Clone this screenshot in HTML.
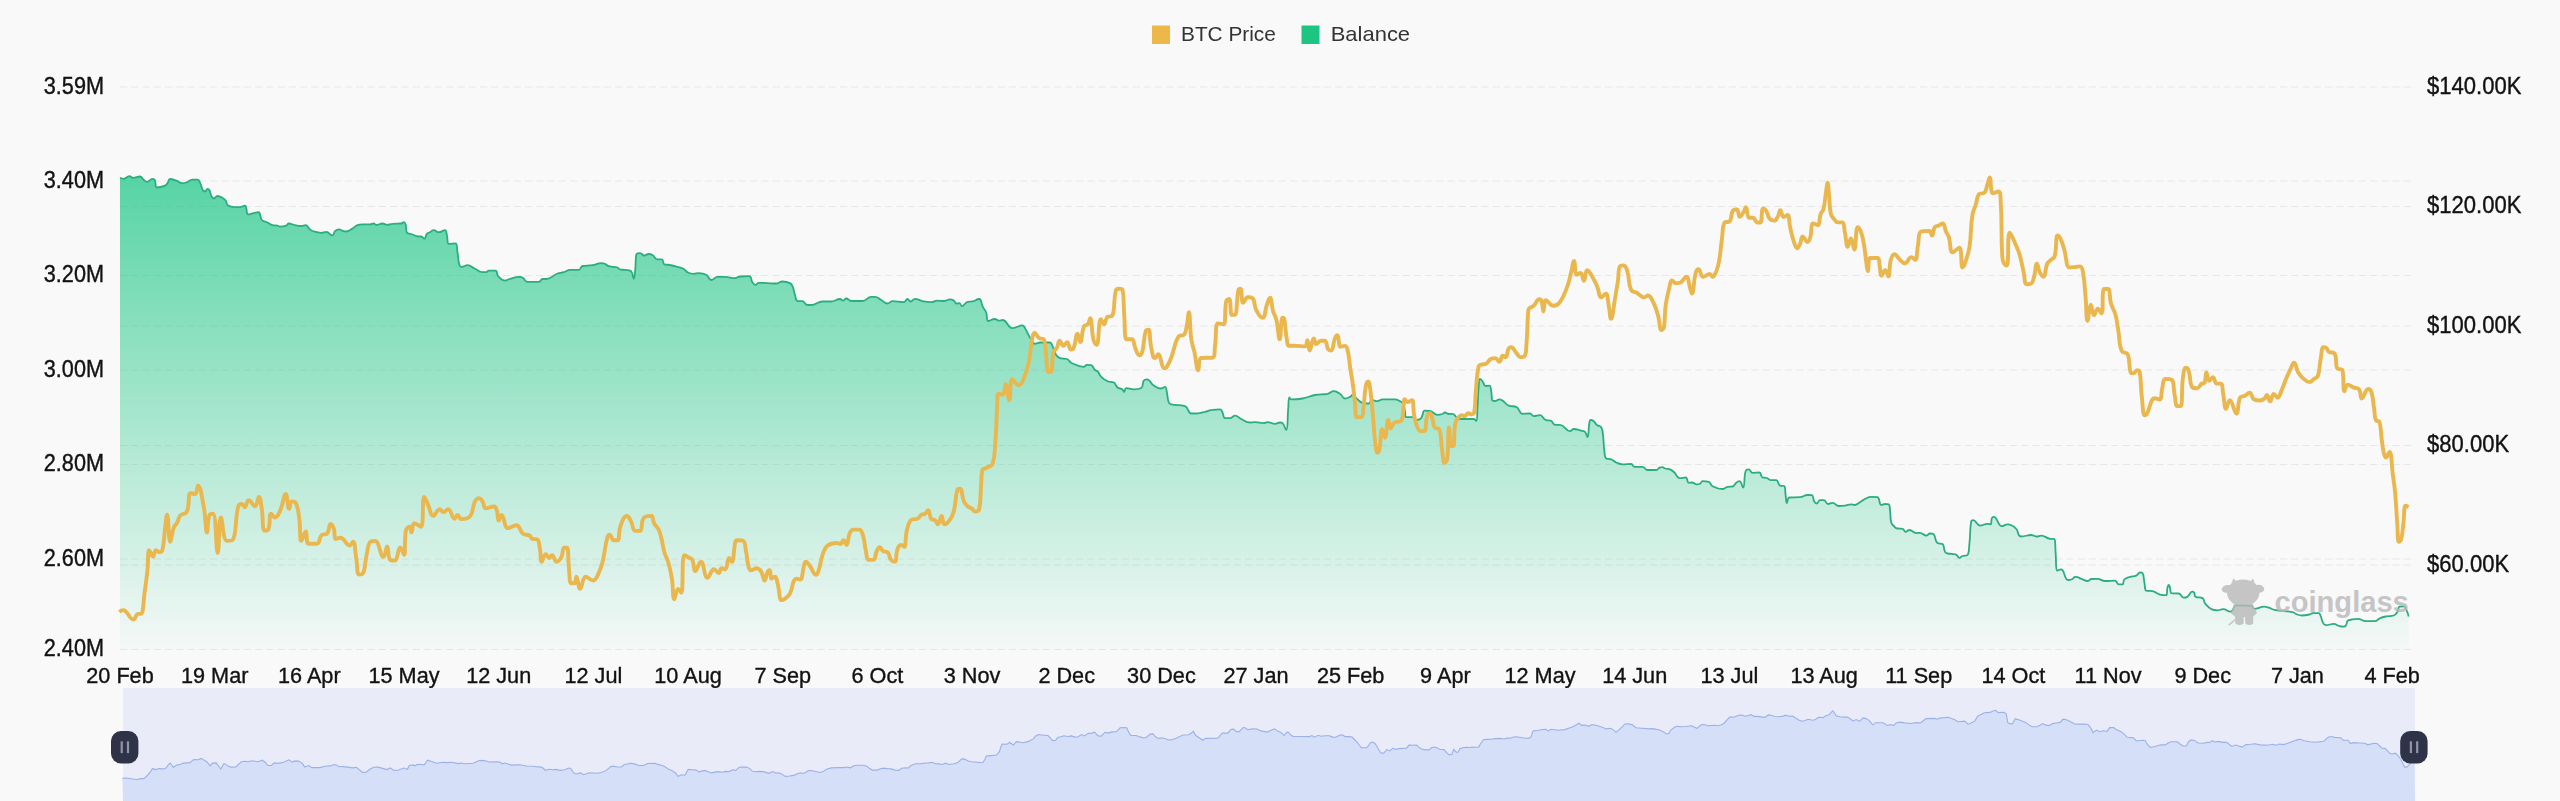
<!DOCTYPE html>
<html><head><meta charset="utf-8"><title>BTC Balance</title>
<style>
html,body{margin:0;padding:0;background:#f9f9f9;}
body{width:2560px;height:801px;overflow:hidden;font-family:"Liberation Sans",sans-serif;}
svg{display:block}
.ax{font-family:"Liberation Sans",sans-serif;font-size:21px;fill:#111;stroke:#111;stroke-width:0.35px;}
.lg{font-family:"Liberation Sans",sans-serif;font-size:21px;fill:#333;}
.wm{font-family:"Liberation Sans",sans-serif;font-size:30px;font-weight:bold;fill:#b9b9b9;}
</style></head><body>
<svg width="2560" height="801" viewBox="0 0 2560 801">
<defs>
<linearGradient id="gg" x1="0" y1="176" x2="0" y2="650" gradientUnits="userSpaceOnUse">
<stop offset="0" stop-color="#18c584" stop-opacity="0.72"/><stop offset="1" stop-color="#18c584" stop-opacity="0.02"/>
</linearGradient>
</defs>
<rect width="2560" height="801" fill="#f9f9f9"/>
<g stroke="#e7e7e7" stroke-width="1.2" stroke-dasharray="7.25 4"><line x1="120" x2="2412" y1="87" y2="87"/><line x1="120" x2="2412" y1="181" y2="181"/><line x1="120" x2="2412" y1="206.5" y2="206.5"/><line x1="120" x2="2412" y1="275.5" y2="275.5"/><line x1="120" x2="2412" y1="326" y2="326"/><line x1="120" x2="2412" y1="370" y2="370"/><line x1="120" x2="2412" y1="445.5" y2="445.5"/><line x1="120" x2="2412" y1="464.5" y2="464.5"/><line x1="120" x2="2412" y1="559" y2="559"/><line x1="120" x2="2412" y1="565" y2="565"/><line x1="120" x2="2412" y1="649.5" y2="649.5"/></g>
<path d="M120.0,177.8 C120.0,177.8 122.1,178.8 123.8,178.8 C126.3,178.8 126.8,176.2 129.4,176.2 C131.0,176.2 131.4,177.8 133.1,177.8 C136.2,177.8 137.2,176.5 140.0,176.5 C142.0,176.5 141.9,178.6 143.8,180.0 C145.0,181.0 145.5,181.9 146.9,181.9 C149.4,181.9 150.0,178.8 152.5,178.8 C153.5,178.8 154.3,179.0 154.8,180.0 C156.2,183.0 154.8,187.5 156.9,187.5 C159.1,187.5 161.6,187.0 165.0,185.6 C166.4,185.0 166.5,184.4 167.5,183.1 C168.8,181.4 168.3,179.0 170.0,179.0 C172.8,179.0 174.2,180.1 177.5,181.2 C179.5,182.0 179.8,183.1 181.9,183.1 C183.8,183.1 184.4,183.1 186.2,182.5 C189.2,181.5 189.6,179.6 192.5,179.6 C194.6,179.6 195.4,179.6 197.5,179.6 C198.5,179.6 198.9,180.3 199.4,181.2 C201.4,185.2 201.0,186.8 203.1,190.6 C203.6,191.4 204.3,191.5 205.0,191.5 C206.3,191.5 206.3,188.8 207.5,188.8 C208.2,188.8 208.9,189.1 209.4,190.0 C210.6,192.2 210.1,193.3 211.2,195.6 C212.0,197.1 212.5,198.5 213.8,198.5 C215.3,198.5 215.7,196.0 217.5,196.0 C220.2,196.0 221.1,197.3 223.8,198.8 C224.8,199.3 225.0,199.6 225.6,200.6 C227.0,202.7 226.3,204.3 228.1,205.6 C230.5,207.2 231.9,207.2 235.0,207.2 C237.2,207.2 237.8,207.2 240.0,207.2 C242.3,207.2 243.2,205.6 245.0,205.6 C246.0,205.6 245.8,206.9 246.2,208.1 C247.2,210.9 246.3,214.4 248.1,214.4 C249.7,214.4 251.2,213.6 253.8,213.1 C256.0,212.7 256.9,212.2 258.8,212.2 C259.7,212.2 259.6,213.4 260.0,214.4 C261.0,216.8 260.2,218.2 261.9,220.0 C263.6,221.9 265.0,221.3 267.5,222.5 C269.8,223.6 270.1,224.8 272.5,225.2 C274.6,225.6 275.3,225.2 277.5,225.6 C278.7,225.8 278.8,226.6 280.0,226.6 C282.8,226.6 283.7,226.6 286.2,225.6 C287.6,225.1 287.4,223.5 288.8,223.5 C291.4,223.5 292.1,224.7 295.0,225.2 C297.8,225.8 298.4,226.0 301.2,226.0 C303.2,226.0 304.0,225.2 305.6,225.2 C307.9,225.2 307.9,227.6 310.0,229.4 C311.0,230.2 311.2,230.6 312.5,231.0 C316.3,232.1 317.3,232.8 321.2,232.8 C323.5,232.8 324.2,231.9 326.2,231.9 C329.2,231.9 330.1,235.4 332.5,235.4 C334.1,235.4 333.5,232.7 335.0,231.2 C336.3,230.0 337.0,229.4 338.8,229.4 C341.0,229.4 341.5,230.7 343.8,231.2 C344.8,231.5 345.2,231.5 346.2,231.5 C348.6,231.5 349.1,230.6 351.2,229.4 C354.2,227.7 354.5,226.5 357.5,225.2 C359.5,224.4 360.2,224.4 362.5,224.4 C365.9,224.4 366.7,224.4 370.0,224.4 C371.7,224.4 372.1,223.5 373.8,223.5 C375.0,223.5 375.0,225.0 376.2,225.0 C379.0,225.0 379.7,223.5 382.5,223.5 C384.5,223.5 384.9,224.8 386.9,224.8 C389.4,224.8 389.9,223.9 392.5,223.8 C396.4,223.5 397.4,223.8 401.2,223.5 C402.5,223.4 402.8,222.2 403.8,222.2 C404.7,222.2 405.3,223.2 405.6,224.4 C406.7,227.8 405.6,229.8 406.9,232.5 C407.6,234.0 409.3,233.3 411.2,234.0 C414.6,235.1 415.3,236.5 418.8,236.5 C419.8,236.5 420.3,236.5 421.2,236.5 C422.8,236.5 423.3,238.8 424.4,238.8 C425.9,238.8 425.3,235.6 426.9,233.8 C427.8,232.6 428.6,233.0 430.0,232.2 C431.7,231.4 432.0,230.2 433.8,230.2 C436.0,230.2 436.5,232.2 438.8,232.2 C441.5,232.2 442.9,230.2 445.0,230.2 C446.6,230.2 446.3,232.8 446.9,235.0 C447.9,238.9 446.9,243.8 448.8,243.8 C450.2,243.8 454.2,243.5 455.6,243.5 C457.5,243.5 456.8,248.4 457.5,252.5 C458.5,258.1 457.8,259.8 459.4,265.0 C459.8,266.3 460.6,266.9 461.9,266.9 C464.3,266.9 465.1,265.2 467.5,265.2 C471.0,265.2 471.6,267.2 475.0,268.8 C478.4,270.3 479.0,272.2 482.5,272.2 C484.1,272.2 484.7,272.2 486.2,272.2 C487.5,272.2 487.5,270.6 488.8,270.6 C491.7,270.6 493.4,270.6 495.6,270.6 C497.6,270.6 496.3,274.3 498.1,276.2 C500.5,278.8 501.8,280.6 505.0,280.6 C507.1,280.6 507.7,279.3 510.0,278.8 C514.4,277.6 515.6,276.9 520.0,276.9 C521.5,276.9 521.9,277.3 523.1,278.1 C525.3,279.5 525.1,281.9 527.5,281.9 C532.1,281.9 534.0,281.9 538.8,281.9 C540.7,281.9 540.6,279.0 542.5,279.0 C544.0,279.0 544.7,279.0 546.2,279.0 C551.4,279.0 552.3,275.5 557.5,273.5 C560.2,272.5 561.0,273.1 563.8,272.2 C566.6,271.4 567.1,269.8 570.0,269.8 C573.8,269.8 575.2,269.8 578.8,269.8 C580.9,269.8 580.4,266.4 582.5,266.0 C586.5,265.2 588.1,265.9 592.5,265.2 C596.5,264.6 597.3,263.1 601.2,263.1 C602.9,263.1 603.5,263.1 605.0,263.8 C606.8,264.5 606.9,265.7 608.8,266.2 C612.5,267.4 613.8,266.5 617.5,267.5 C618.8,267.9 618.7,269.0 620.0,269.4 C624.3,270.4 625.8,269.5 630.0,270.6 C631.1,270.9 631.4,271.4 631.9,272.5 C633.1,275.1 633.1,278.8 633.8,278.8 C634.6,278.8 634.8,274.0 635.2,270.0 C636.0,263.3 635.2,261.3 636.2,255.0 C636.5,253.7 637.5,253.1 638.8,253.1 C640.0,253.1 640.6,253.1 641.9,253.8 C642.9,254.3 642.7,255.6 643.8,255.6 C645.8,255.6 646.5,254.0 648.8,254.0 C650.4,254.0 651.0,254.1 652.5,255.0 C655.0,256.5 655.0,259.4 657.5,259.4 C659.2,259.4 660.5,259.4 661.9,259.4 C663.6,259.4 662.6,263.8 664.4,264.4 C666.2,265.0 667.5,264.5 670.0,265.0 C673.4,265.6 674.2,265.9 677.5,266.9 C680.3,267.7 681.2,267.6 683.8,269.0 C685.7,270.0 685.5,271.3 687.5,272.2 C690.0,273.5 690.9,273.8 693.8,273.8 C696.0,273.8 696.5,273.1 698.8,273.1 C702.1,273.1 703.4,273.2 706.2,274.8 C709.0,276.3 708.7,280.0 711.2,280.0 C713.7,280.0 714.5,276.9 717.5,276.9 C720.7,276.9 721.6,276.9 725.0,276.9 C729.5,276.9 730.6,278.1 735.0,278.1 C737.3,278.1 737.7,276.6 740.0,276.5 C744.1,276.2 746.2,276.2 749.4,276.2 C751.8,276.2 750.7,280.0 752.5,282.5 C753.5,283.9 754.2,284.8 755.6,284.8 C757.0,284.8 757.2,282.8 758.8,282.8 C762.5,282.8 763.6,283.0 767.5,283.1 C771.4,283.3 772.4,283.5 776.2,283.5 C779.1,283.5 779.6,281.5 782.5,281.5 C785.8,281.5 787.0,281.7 790.0,283.1 C791.5,283.9 791.8,284.6 792.5,286.2 C794.1,290.0 793.7,291.1 795.0,295.0 C795.9,297.8 795.6,300.7 797.5,301.0 C799.0,301.2 800.5,301.0 802.5,301.2 C805.0,301.6 805.0,305.0 807.5,305.0 C809.0,305.0 809.6,305.0 811.2,305.0 C816.4,305.0 817.3,301.5 822.5,301.5 C826.3,301.5 827.4,301.5 831.2,301.5 C835.3,301.5 836.1,299.0 840.0,299.0 C841.5,299.0 841.8,300.6 843.1,300.6 C844.6,300.6 844.8,298.5 846.2,298.5 C848.4,298.5 848.8,301.0 851.2,301.0 C856.1,301.0 857.7,301.0 862.5,301.0 C866.7,301.0 867.2,296.9 871.2,296.9 C872.8,296.9 873.4,296.9 875.0,296.9 C877.9,296.9 878.5,298.5 881.2,300.0 C884.1,301.5 884.6,303.5 887.5,303.5 C889.7,303.5 890.1,301.2 892.5,301.2 C897.4,301.2 899.1,302.2 903.8,302.2 C905.8,302.2 905.8,299.0 907.5,299.0 C908.9,299.0 909.2,301.5 910.6,301.5 C912.5,301.5 912.9,298.8 915.0,298.8 C918.2,298.8 919.0,300.5 922.5,301.2 C926.4,302.1 927.4,302.2 931.2,302.2 C934.1,302.2 934.6,300.6 937.5,300.6 C940.3,300.6 941.0,301.0 943.8,301.0 C946.6,301.0 947.2,299.4 950.0,299.4 C951.7,299.4 952.3,299.7 953.8,300.6 C955.1,301.5 954.9,303.5 956.2,303.5 C957.4,303.5 958.3,303.1 959.4,303.1 C960.8,303.1 960.6,306.2 961.9,306.2 C964.2,306.2 964.7,302.6 967.5,301.9 C970.0,301.2 971.0,301.9 973.8,301.2 C976.1,300.7 976.5,299.0 978.8,299.0 C979.6,299.0 980.2,299.2 980.6,300.0 C981.9,302.5 981.3,303.6 982.5,306.2 C983.8,309.2 985.1,309.5 986.2,312.5 C987.6,316.1 986.2,321.0 988.1,321.0 C989.7,321.0 992.0,319.0 995.0,319.0 C996.7,319.0 997.0,320.6 998.8,320.6 C1000.4,320.6 1001.1,320.0 1002.5,320.0 C1007.3,320.0 1007.5,328.1 1012.5,328.1 C1016.5,328.1 1018.4,325.4 1022.5,325.4 C1024.0,325.4 1024.1,326.7 1025.0,328.1 C1027.5,332.2 1027.4,333.5 1030.0,337.5 C1031.9,340.5 1032.4,343.8 1035.0,343.8 C1035.8,343.8 1036.4,343.4 1037.5,343.1 C1038.6,342.8 1038.8,342.5 1040.0,342.5 C1044.5,342.5 1046.1,342.5 1050.0,342.5 C1051.7,342.5 1051.6,344.4 1052.5,346.2 C1054.4,350.1 1054.0,351.5 1056.2,355.0 C1057.4,356.8 1058.0,357.5 1060.0,358.1 C1062.8,359.0 1064.1,358.1 1066.9,359.0 C1069.2,359.7 1068.9,361.7 1071.2,362.8 C1076.5,365.2 1078.3,366.9 1083.8,366.9 C1085.3,366.9 1085.3,364.8 1086.9,364.8 C1088.7,364.8 1089.7,364.8 1091.2,365.2 C1093.4,365.9 1093.1,368.2 1095.0,370.0 C1095.9,370.9 1096.7,370.3 1097.5,371.2 C1099.5,373.4 1099.1,374.8 1101.2,376.9 C1103.6,379.3 1104.4,379.9 1107.5,381.2 C1110.1,382.4 1111.5,381.2 1113.8,382.5 C1116.0,383.7 1115.4,385.8 1117.5,387.5 C1119.3,388.9 1120.6,388.1 1122.5,389.4 C1123.5,390.1 1123.3,391.9 1124.0,391.9 C1125.0,391.9 1124.6,388.1 1126.2,388.1 C1129.0,388.1 1130.4,389.4 1133.8,389.4 C1137.1,389.4 1139.0,389.4 1141.2,388.1 C1143.5,386.8 1142.0,383.4 1143.8,380.6 C1144.5,379.4 1145.5,379.4 1146.9,379.4 C1148.0,379.4 1148.5,379.8 1149.4,380.6 C1151.3,382.3 1151.0,383.6 1153.1,385.0 C1156.4,387.1 1157.6,388.5 1161.2,388.5 C1162.9,388.5 1164.0,386.9 1165.0,386.9 C1166.5,386.9 1166.3,389.9 1166.9,392.5 C1167.9,396.9 1167.2,398.4 1168.8,402.5 C1169.2,403.8 1169.9,404.1 1171.2,404.4 C1177.2,405.8 1179.7,404.4 1185.0,406.2 C1188.7,407.5 1188.0,413.5 1191.2,413.5 C1192.5,413.5 1193.3,413.5 1195.0,413.5 C1199.5,413.5 1200.5,412.8 1205.0,411.9 C1208.4,411.1 1209.1,410.1 1212.5,409.8 C1215.8,409.4 1217.1,409.4 1220.0,409.4 C1221.6,409.4 1221.6,410.9 1222.5,412.5 C1223.9,414.9 1223.1,418.1 1225.0,418.1 C1226.5,418.1 1227.9,418.1 1230.0,418.1 C1232.4,418.1 1232.8,415.6 1235.0,415.6 C1237.8,415.6 1238.3,417.7 1241.2,419.0 C1245.1,420.8 1246.0,422.5 1250.0,422.5 C1252.1,422.5 1252.8,422.2 1255.0,422.2 C1258.9,422.2 1259.8,423.1 1263.8,423.1 C1265.5,423.1 1265.8,422.2 1267.5,422.2 C1270.9,422.2 1271.6,423.8 1275.0,423.8 C1277.3,423.8 1277.8,422.5 1280.0,422.5 C1281.1,422.5 1281.8,422.5 1282.5,423.1 C1284.6,425.0 1285.5,430.0 1286.2,430.0 C1288.1,430.0 1287.3,419.0 1288.1,410.0 C1288.7,404.4 1288.2,397.5 1289.4,397.5 C1289.6,397.5 1290.1,399.4 1291.2,399.4 C1296.0,399.4 1297.5,399.4 1302.5,398.5 C1308.2,397.5 1309.3,396.1 1315.0,395.0 C1320.5,393.9 1322.0,394.8 1327.5,393.8 C1330.4,393.2 1330.9,391.2 1333.8,391.2 C1336.6,391.2 1337.5,392.1 1340.0,393.8 C1342.6,395.4 1342.4,398.5 1345.0,398.5 C1346.9,398.5 1347.9,397.9 1350.0,396.9 C1351.3,396.3 1351.4,395.0 1352.5,395.0 C1354.8,395.0 1355.1,397.5 1357.5,399.4 C1359.6,401.0 1360.0,402.0 1362.5,402.8 C1365.1,403.5 1366.3,403.5 1368.8,403.5 C1370.6,403.5 1370.1,400.0 1371.9,400.0 C1374.0,400.0 1375.0,401.2 1377.5,401.2 C1379.8,401.2 1380.1,399.4 1382.5,399.4 C1388.0,399.4 1389.5,399.4 1395.0,399.4 C1397.4,399.4 1397.8,400.3 1400.0,401.2 C1401.2,401.8 1401.9,401.6 1402.5,402.8 C1404.2,406.1 1404.2,407.4 1405.0,411.2 C1405.6,413.9 1405.0,417.2 1405.6,417.2 C1406.3,417.2 1409.6,417.2 1412.5,417.2 C1414.4,417.2 1414.4,420.0 1416.2,420.0 C1418.1,420.0 1419.2,419.9 1420.6,418.8 C1422.0,417.7 1421.7,416.7 1422.5,415.0 C1423.4,413.1 1422.8,410.6 1424.4,410.6 C1426.2,410.6 1427.6,410.6 1430.0,411.0 C1433.5,411.6 1434.0,414.8 1437.5,414.8 C1439.6,414.8 1440.4,414.6 1442.5,414.0 C1443.7,413.6 1443.8,412.5 1445.0,412.5 C1446.6,412.5 1447.0,414.0 1448.8,414.0 C1450.4,414.0 1451.0,413.8 1452.5,413.8 C1454.4,413.8 1454.5,415.6 1456.2,416.9 C1457.8,418.0 1458.1,419.0 1460.0,419.0 C1466.0,419.0 1467.8,419.0 1473.8,419.0 C1475.1,419.0 1476.0,421.0 1476.2,421.0 C1477.5,421.0 1477.1,413.6 1477.5,407.5 C1478.2,397.4 1477.9,395.1 1478.8,385.0 C1479.0,382.1 1478.9,378.8 1480.0,378.8 C1480.6,378.8 1481.5,380.0 1482.5,381.2 C1484.1,383.3 1483.8,386.0 1485.6,386.0 C1486.9,386.0 1488.4,385.6 1489.4,385.6 C1490.9,385.6 1490.7,388.6 1491.2,391.2 C1492.1,395.4 1491.2,399.2 1492.5,400.6 C1492.8,401.0 1493.9,401.0 1495.0,401.0 C1497.0,401.0 1497.4,399.4 1499.4,399.4 C1500.8,399.4 1501.3,399.8 1502.5,400.6 C1505.5,402.6 1505.6,404.3 1508.8,405.6 C1511.8,406.9 1513.5,405.6 1516.2,406.9 C1519.7,408.4 1519.1,413.8 1522.5,413.8 C1525.3,413.8 1526.9,413.5 1530.0,413.5 C1531.9,413.5 1531.8,416.2 1533.8,416.2 C1536.3,416.2 1537.5,415.2 1540.0,415.2 C1543.1,415.2 1543.2,419.6 1546.2,420.2 C1547.9,420.6 1549.0,420.2 1550.6,420.6 C1552.9,421.1 1552.7,424.8 1555.0,424.8 C1556.9,424.8 1558.0,424.8 1560.0,424.8 C1564.8,424.8 1565.5,431.2 1570.0,431.2 C1571.7,431.2 1571.9,429.0 1573.8,429.0 C1577.0,429.0 1577.9,429.8 1581.2,430.6 C1583.0,431.1 1583.9,430.7 1585.0,431.9 C1586.7,433.7 1586.9,437.2 1587.5,437.2 C1588.9,437.2 1588.2,429.0 1589.4,422.5 C1589.6,421.3 1589.7,420.0 1590.6,420.0 C1591.7,420.0 1592.6,420.3 1593.8,421.2 C1595.4,422.6 1595.2,423.7 1596.9,425.0 C1598.6,426.4 1600.3,425.5 1601.2,427.2 C1603.1,430.5 1602.6,432.2 1603.1,436.2 C1604.0,443.0 1603.4,444.6 1604.4,451.2 C1604.8,454.6 1604.4,457.2 1606.2,458.5 C1607.5,459.4 1609.2,458.5 1611.2,459.4 C1613.7,460.3 1613.8,461.4 1616.2,462.5 C1618.9,463.7 1619.6,464.4 1622.5,464.4 C1626.4,464.4 1627.7,464.0 1631.2,464.0 C1633.0,464.0 1632.6,466.9 1634.4,466.9 C1637.7,466.9 1639.1,466.9 1642.5,466.9 C1645.0,466.9 1645.0,470.0 1647.5,470.0 C1651.2,470.0 1652.5,470.0 1656.2,470.0 C1658.2,470.0 1658.2,467.9 1660.0,467.5 C1661.0,467.2 1661.4,467.2 1662.5,467.2 C1663.7,467.2 1663.8,468.2 1665.0,468.5 C1667.2,469.1 1668.0,468.5 1670.0,469.4 C1672.2,470.3 1672.7,470.8 1674.4,472.5 C1676.1,474.2 1675.8,475.2 1677.5,476.9 C1678.4,477.7 1678.8,478.1 1680.0,478.1 C1682.4,478.1 1683.7,477.5 1685.6,477.5 C1687.7,477.5 1686.9,482.8 1688.8,482.8 C1689.7,482.8 1690.5,482.5 1691.9,482.5 C1694.2,482.5 1694.6,484.4 1696.9,484.4 C1698.2,484.4 1698.8,484.4 1700.0,483.8 C1701.3,483.1 1701.1,481.2 1702.5,481.2 C1705.0,481.2 1706.4,481.2 1708.8,481.9 C1710.9,482.4 1710.3,485.1 1712.5,486.2 C1716.5,488.3 1718.1,489.0 1722.5,489.0 C1724.8,489.0 1725.2,487.3 1727.5,486.9 C1729.7,486.5 1730.6,486.9 1732.5,486.5 C1734.5,486.1 1734.4,484.2 1736.2,482.8 C1737.5,481.8 1738.4,481.2 1739.4,481.2 C1741.5,481.2 1742.3,487.5 1743.1,487.5 C1745.1,487.5 1743.6,477.9 1745.6,471.2 C1746.1,469.8 1747.5,469.4 1748.8,469.4 C1750.5,469.4 1750.5,472.8 1752.5,472.8 C1755.3,472.8 1757.0,472.5 1759.4,472.5 C1761.5,472.5 1760.6,477.1 1762.5,477.5 C1763.7,477.8 1764.7,477.5 1766.2,477.8 C1768.6,478.1 1768.9,480.2 1771.2,480.2 C1773.4,480.2 1774.5,480.2 1776.2,480.2 C1778.5,480.2 1777.8,484.7 1780.0,485.6 C1781.5,486.2 1783.8,485.6 1784.4,486.2 C1785.6,487.5 1785.0,491.1 1785.6,495.0 C1786.2,498.7 1785.9,503.1 1786.9,503.1 C1787.6,503.1 1787.2,497.6 1789.4,497.5 C1793.1,497.2 1795.3,497.5 1800.0,497.2 C1803.5,497.1 1804.1,495.0 1807.5,495.0 C1809.4,495.0 1810.7,495.0 1811.9,495.2 C1813.8,495.7 1812.8,499.3 1814.4,501.9 C1815.0,503.0 1815.9,503.5 1816.9,503.5 C1818.4,503.5 1818.3,500.2 1820.0,500.2 C1821.4,500.2 1822.3,500.2 1823.8,500.2 C1826.0,500.2 1825.9,504.0 1828.1,504.0 C1829.9,504.0 1830.6,502.8 1832.5,502.8 C1835.4,502.8 1835.8,506.0 1838.8,506.0 C1841.4,506.0 1842.2,506.0 1845.0,505.6 C1847.8,505.3 1848.4,504.4 1851.2,504.4 C1852.7,504.4 1853.0,505.0 1854.4,505.0 C1857.0,505.0 1857.6,503.6 1860.0,502.2 C1862.3,500.9 1862.6,500.1 1865.0,499.0 C1867.7,497.7 1868.4,496.9 1871.2,496.9 C1874.0,496.9 1875.6,496.9 1877.5,497.2 C1880.1,497.8 1878.9,505.0 1881.2,505.0 C1882.3,505.0 1883.3,504.0 1885.0,504.0 C1886.7,504.0 1887.9,504.0 1888.8,504.4 C1890.0,504.9 1889.6,507.4 1890.0,510.0 C1890.8,515.6 1890.0,517.1 1891.2,522.5 C1891.7,524.3 1892.4,524.7 1893.8,526.0 C1895.2,527.4 1895.6,528.3 1897.5,528.5 C1899.6,528.8 1900.6,528.5 1902.5,528.8 C1904.2,529.0 1904.0,531.9 1905.6,531.9 C1907.1,531.9 1907.7,530.0 1909.4,530.0 C1912.4,530.0 1913.1,533.1 1916.2,533.1 C1917.8,533.1 1918.4,532.8 1920.0,532.8 C1922.9,532.8 1923.5,535.6 1926.2,535.6 C1928.0,535.6 1928.2,533.5 1930.0,533.5 C1931.3,533.5 1932.3,533.5 1933.1,533.8 C1935.7,534.6 1934.7,541.3 1937.5,543.1 C1938.9,544.0 1941.2,543.1 1942.5,544.0 C1944.6,545.4 1943.3,548.7 1945.0,551.9 C1945.6,553.0 1946.2,553.2 1947.5,553.5 C1951.0,554.3 1952.3,553.5 1955.6,554.4 C1957.7,554.9 1957.6,557.8 1959.4,557.8 C1960.7,557.8 1961.0,556.5 1962.5,556.0 C1964.6,555.3 1966.7,556.0 1967.5,555.0 C1969.4,552.8 1968.8,548.8 1969.4,543.8 C1970.5,533.7 1969.7,530.9 1971.2,521.2 C1971.4,520.3 1972.4,520.2 1973.1,520.2 C1976.3,520.2 1976.6,525.6 1980.0,525.6 C1983.0,525.6 1984.1,523.8 1987.5,523.8 C1988.9,523.8 1990.0,524.4 1990.6,524.4 C1991.9,524.4 1990.8,520.6 1991.9,518.1 C1992.2,517.2 1993.1,516.9 1993.8,516.9 C1997.6,516.9 1997.7,526.2 2001.9,526.2 C2003.9,526.2 2005.1,524.4 2007.5,524.4 C2011.5,524.4 2013.3,525.9 2016.2,528.8 C2018.3,530.7 2017.2,532.6 2018.8,535.0 C2019.4,536.1 2020.0,536.5 2021.2,536.5 C2025.6,536.5 2026.8,535.0 2031.2,535.0 C2033.8,535.0 2034.3,536.5 2036.9,536.5 C2038.8,536.5 2039.3,535.6 2041.2,535.6 C2045.2,535.6 2046.0,538.2 2050.0,538.8 C2051.9,539.0 2054.0,538.8 2054.4,539.0 C2055.6,539.8 2055.1,546.4 2055.6,552.5 C2056.3,560.6 2055.6,570.6 2056.9,570.6 C2057.2,570.6 2060.0,569.4 2061.2,569.4 C2064.2,569.4 2063.6,575.0 2066.2,578.8 C2067.0,579.7 2067.6,580.0 2068.8,580.0 C2070.4,580.0 2071.0,579.8 2072.5,579.0 C2073.8,578.4 2073.7,576.9 2075.0,576.9 C2076.0,576.9 2076.4,576.9 2077.5,577.2 C2079.8,578.0 2080.2,578.5 2082.5,579.4 C2084.7,580.2 2085.3,581.0 2087.5,581.0 C2089.3,581.0 2089.4,579.2 2091.2,579.0 C2093.9,578.8 2094.8,578.8 2097.5,578.8 C2100.9,578.8 2101.5,581.0 2105.0,581.0 C2109.4,581.0 2111.0,580.6 2115.0,580.6 C2117.1,580.6 2116.8,584.4 2118.8,584.4 C2120.1,584.4 2121.5,584.4 2122.5,584.4 C2124.0,584.4 2122.8,580.9 2124.4,579.4 C2126.2,577.6 2127.4,577.7 2130.0,576.9 C2132.7,576.0 2133.7,576.7 2136.2,575.6 C2138.2,574.8 2138.2,572.5 2140.0,572.5 C2141.0,572.5 2142.1,572.5 2142.5,573.1 C2144.1,575.4 2143.5,578.3 2144.4,582.5 C2145.2,586.2 2144.4,589.8 2146.2,590.6 C2147.7,591.2 2149.8,590.6 2152.5,591.2 C2157.1,592.3 2157.9,595.2 2162.5,595.2 C2164.1,595.2 2165.7,595.2 2166.2,595.2 C2167.5,595.2 2166.7,590.9 2167.5,587.5 C2167.8,586.3 2168.2,585.0 2168.8,585.0 C2169.3,585.0 2169.6,586.3 2170.0,587.5 C2170.8,590.0 2170.0,592.8 2171.2,593.1 C2172.9,593.5 2175.7,593.1 2178.8,593.5 C2181.4,593.8 2181.3,597.7 2183.7,597.7 C2185.2,597.7 2186.1,597.7 2187.5,596.7 C2189.9,595.0 2189.9,591.6 2192.2,591.6 C2192.9,591.6 2193.6,591.8 2194.1,592.5 C2195.1,594.1 2194.1,595.8 2195.5,596.7 C2197.7,598.1 2200.1,596.7 2202.5,598.1 C2204.6,599.4 2203.5,601.6 2205.3,603.7 C2207.8,606.7 2208.6,608.0 2211.9,609.4 C2214.1,610.3 2215.0,610.3 2217.5,610.3 C2220.0,610.3 2220.6,609.2 2223.1,609.2 C2226.5,609.2 2227.4,611.7 2230.6,611.7 C2231.6,611.7 2231.8,611.1 2232.5,610.3 C2234.3,608.3 2233.8,605.4 2236.2,605.4 C2242.2,605.4 2245.0,605.4 2251.2,605.8 C2253.0,605.9 2252.4,608.9 2254.1,608.9 C2258.3,608.9 2259.7,606.7 2264.4,606.7 C2266.5,606.7 2267.0,607.1 2269.1,607.7 C2271.6,608.5 2272.0,609.3 2274.7,609.8 C2282.6,611.4 2284.7,610.6 2292.5,612.2 C2294.8,612.7 2295.0,613.8 2297.2,614.5 C2299.2,615.2 2299.7,615.5 2301.9,615.5 C2305.2,615.5 2306.1,615.2 2309.4,614.5 C2311.1,614.2 2311.4,613.1 2313.1,613.1 C2315.6,613.1 2316.6,613.1 2318.7,613.1 C2320.0,613.1 2320.0,614.6 2320.6,615.9 C2322.1,619.2 2321.6,620.5 2323.4,623.4 C2324.2,624.6 2324.8,625.1 2326.2,625.1 C2329.5,625.1 2330.5,623.9 2333.7,623.9 C2336.4,623.9 2336.8,625.6 2339.4,626.2 C2341.4,626.7 2342.2,626.7 2344.1,626.7 C2345.4,626.7 2345.6,625.6 2346.4,624.4 C2347.3,622.9 2346.4,621.3 2347.8,620.6 C2351.5,618.9 2353.5,618.9 2358.1,618.9 C2361.5,618.9 2362.2,621.1 2365.6,621.1 C2369.8,621.1 2371.0,621.1 2375.0,621.1 C2377.3,621.1 2377.4,619.2 2379.7,618.3 C2382.5,617.1 2383.2,617.0 2386.2,616.4 C2389.6,615.7 2390.8,616.4 2393.7,615.5 C2395.8,614.8 2396.2,613.7 2397.5,611.7 C2398.8,609.8 2397.8,607.2 2399.4,606.7 C2400.8,606.4 2402.5,606.4 2404.1,606.4 C2405.9,606.4 2405.8,609.0 2406.9,611.2 C2407.9,613.5 2408.7,616.4 2408.7,616.4 L2408.7,650.0 L120.0,650.0 Z" fill="url(#gg)"/>


<path d="M120.0,177.8 C120.0,177.8 122.1,178.8 123.8,178.8 C126.3,178.8 126.8,176.2 129.4,176.2 C131.0,176.2 131.4,177.8 133.1,177.8 C136.2,177.8 137.2,176.5 140.0,176.5 C142.0,176.5 141.9,178.6 143.8,180.0 C145.0,181.0 145.5,181.9 146.9,181.9 C149.4,181.9 150.0,178.8 152.5,178.8 C153.5,178.8 154.3,179.0 154.8,180.0 C156.2,183.0 154.8,187.5 156.9,187.5 C159.1,187.5 161.6,187.0 165.0,185.6 C166.4,185.0 166.5,184.4 167.5,183.1 C168.8,181.4 168.3,179.0 170.0,179.0 C172.8,179.0 174.2,180.1 177.5,181.2 C179.5,182.0 179.8,183.1 181.9,183.1 C183.8,183.1 184.4,183.1 186.2,182.5 C189.2,181.5 189.6,179.6 192.5,179.6 C194.6,179.6 195.4,179.6 197.5,179.6 C198.5,179.6 198.9,180.3 199.4,181.2 C201.4,185.2 201.0,186.8 203.1,190.6 C203.6,191.4 204.3,191.5 205.0,191.5 C206.3,191.5 206.3,188.8 207.5,188.8 C208.2,188.8 208.9,189.1 209.4,190.0 C210.6,192.2 210.1,193.3 211.2,195.6 C212.0,197.1 212.5,198.5 213.8,198.5 C215.3,198.5 215.7,196.0 217.5,196.0 C220.2,196.0 221.1,197.3 223.8,198.8 C224.8,199.3 225.0,199.6 225.6,200.6 C227.0,202.7 226.3,204.3 228.1,205.6 C230.5,207.2 231.9,207.2 235.0,207.2 C237.2,207.2 237.8,207.2 240.0,207.2 C242.3,207.2 243.2,205.6 245.0,205.6 C246.0,205.6 245.8,206.9 246.2,208.1 C247.2,210.9 246.3,214.4 248.1,214.4 C249.7,214.4 251.2,213.6 253.8,213.1 C256.0,212.7 256.9,212.2 258.8,212.2 C259.7,212.2 259.6,213.4 260.0,214.4 C261.0,216.8 260.2,218.2 261.9,220.0 C263.6,221.9 265.0,221.3 267.5,222.5 C269.8,223.6 270.1,224.8 272.5,225.2 C274.6,225.6 275.3,225.2 277.5,225.6 C278.7,225.8 278.8,226.6 280.0,226.6 C282.8,226.6 283.7,226.6 286.2,225.6 C287.6,225.1 287.4,223.5 288.8,223.5 C291.4,223.5 292.1,224.7 295.0,225.2 C297.8,225.8 298.4,226.0 301.2,226.0 C303.2,226.0 304.0,225.2 305.6,225.2 C307.9,225.2 307.9,227.6 310.0,229.4 C311.0,230.2 311.2,230.6 312.5,231.0 C316.3,232.1 317.3,232.8 321.2,232.8 C323.5,232.8 324.2,231.9 326.2,231.9 C329.2,231.9 330.1,235.4 332.5,235.4 C334.1,235.4 333.5,232.7 335.0,231.2 C336.3,230.0 337.0,229.4 338.8,229.4 C341.0,229.4 341.5,230.7 343.8,231.2 C344.8,231.5 345.2,231.5 346.2,231.5 C348.6,231.5 349.1,230.6 351.2,229.4 C354.2,227.7 354.5,226.5 357.5,225.2 C359.5,224.4 360.2,224.4 362.5,224.4 C365.9,224.4 366.7,224.4 370.0,224.4 C371.7,224.4 372.1,223.5 373.8,223.5 C375.0,223.5 375.0,225.0 376.2,225.0 C379.0,225.0 379.7,223.5 382.5,223.5 C384.5,223.5 384.9,224.8 386.9,224.8 C389.4,224.8 389.9,223.9 392.5,223.8 C396.4,223.5 397.4,223.8 401.2,223.5 C402.5,223.4 402.8,222.2 403.8,222.2 C404.7,222.2 405.3,223.2 405.6,224.4 C406.7,227.8 405.6,229.8 406.9,232.5 C407.6,234.0 409.3,233.3 411.2,234.0 C414.6,235.1 415.3,236.5 418.8,236.5 C419.8,236.5 420.3,236.5 421.2,236.5 C422.8,236.5 423.3,238.8 424.4,238.8 C425.9,238.8 425.3,235.6 426.9,233.8 C427.8,232.6 428.6,233.0 430.0,232.2 C431.7,231.4 432.0,230.2 433.8,230.2 C436.0,230.2 436.5,232.2 438.8,232.2 C441.5,232.2 442.9,230.2 445.0,230.2 C446.6,230.2 446.3,232.8 446.9,235.0 C447.9,238.9 446.9,243.8 448.8,243.8 C450.2,243.8 454.2,243.5 455.6,243.5 C457.5,243.5 456.8,248.4 457.5,252.5 C458.5,258.1 457.8,259.8 459.4,265.0 C459.8,266.3 460.6,266.9 461.9,266.9 C464.3,266.9 465.1,265.2 467.5,265.2 C471.0,265.2 471.6,267.2 475.0,268.8 C478.4,270.3 479.0,272.2 482.5,272.2 C484.1,272.2 484.7,272.2 486.2,272.2 C487.5,272.2 487.5,270.6 488.8,270.6 C491.7,270.6 493.4,270.6 495.6,270.6 C497.6,270.6 496.3,274.3 498.1,276.2 C500.5,278.8 501.8,280.6 505.0,280.6 C507.1,280.6 507.7,279.3 510.0,278.8 C514.4,277.6 515.6,276.9 520.0,276.9 C521.5,276.9 521.9,277.3 523.1,278.1 C525.3,279.5 525.1,281.9 527.5,281.9 C532.1,281.9 534.0,281.9 538.8,281.9 C540.7,281.9 540.6,279.0 542.5,279.0 C544.0,279.0 544.7,279.0 546.2,279.0 C551.4,279.0 552.3,275.5 557.5,273.5 C560.2,272.5 561.0,273.1 563.8,272.2 C566.6,271.4 567.1,269.8 570.0,269.8 C573.8,269.8 575.2,269.8 578.8,269.8 C580.9,269.8 580.4,266.4 582.5,266.0 C586.5,265.2 588.1,265.9 592.5,265.2 C596.5,264.6 597.3,263.1 601.2,263.1 C602.9,263.1 603.5,263.1 605.0,263.8 C606.8,264.5 606.9,265.7 608.8,266.2 C612.5,267.4 613.8,266.5 617.5,267.5 C618.8,267.9 618.7,269.0 620.0,269.4 C624.3,270.4 625.8,269.5 630.0,270.6 C631.1,270.9 631.4,271.4 631.9,272.5 C633.1,275.1 633.1,278.8 633.8,278.8 C634.6,278.8 634.8,274.0 635.2,270.0 C636.0,263.3 635.2,261.3 636.2,255.0 C636.5,253.7 637.5,253.1 638.8,253.1 C640.0,253.1 640.6,253.1 641.9,253.8 C642.9,254.3 642.7,255.6 643.8,255.6 C645.8,255.6 646.5,254.0 648.8,254.0 C650.4,254.0 651.0,254.1 652.5,255.0 C655.0,256.5 655.0,259.4 657.5,259.4 C659.2,259.4 660.5,259.4 661.9,259.4 C663.6,259.4 662.6,263.8 664.4,264.4 C666.2,265.0 667.5,264.5 670.0,265.0 C673.4,265.6 674.2,265.9 677.5,266.9 C680.3,267.7 681.2,267.6 683.8,269.0 C685.7,270.0 685.5,271.3 687.5,272.2 C690.0,273.5 690.9,273.8 693.8,273.8 C696.0,273.8 696.5,273.1 698.8,273.1 C702.1,273.1 703.4,273.2 706.2,274.8 C709.0,276.3 708.7,280.0 711.2,280.0 C713.7,280.0 714.5,276.9 717.5,276.9 C720.7,276.9 721.6,276.9 725.0,276.9 C729.5,276.9 730.6,278.1 735.0,278.1 C737.3,278.1 737.7,276.6 740.0,276.5 C744.1,276.2 746.2,276.2 749.4,276.2 C751.8,276.2 750.7,280.0 752.5,282.5 C753.5,283.9 754.2,284.8 755.6,284.8 C757.0,284.8 757.2,282.8 758.8,282.8 C762.5,282.8 763.6,283.0 767.5,283.1 C771.4,283.3 772.4,283.5 776.2,283.5 C779.1,283.5 779.6,281.5 782.5,281.5 C785.8,281.5 787.0,281.7 790.0,283.1 C791.5,283.9 791.8,284.6 792.5,286.2 C794.1,290.0 793.7,291.1 795.0,295.0 C795.9,297.8 795.6,300.7 797.5,301.0 C799.0,301.2 800.5,301.0 802.5,301.2 C805.0,301.6 805.0,305.0 807.5,305.0 C809.0,305.0 809.6,305.0 811.2,305.0 C816.4,305.0 817.3,301.5 822.5,301.5 C826.3,301.5 827.4,301.5 831.2,301.5 C835.3,301.5 836.1,299.0 840.0,299.0 C841.5,299.0 841.8,300.6 843.1,300.6 C844.6,300.6 844.8,298.5 846.2,298.5 C848.4,298.5 848.8,301.0 851.2,301.0 C856.1,301.0 857.7,301.0 862.5,301.0 C866.7,301.0 867.2,296.9 871.2,296.9 C872.8,296.9 873.4,296.9 875.0,296.9 C877.9,296.9 878.5,298.5 881.2,300.0 C884.1,301.5 884.6,303.5 887.5,303.5 C889.7,303.5 890.1,301.2 892.5,301.2 C897.4,301.2 899.1,302.2 903.8,302.2 C905.8,302.2 905.8,299.0 907.5,299.0 C908.9,299.0 909.2,301.5 910.6,301.5 C912.5,301.5 912.9,298.8 915.0,298.8 C918.2,298.8 919.0,300.5 922.5,301.2 C926.4,302.1 927.4,302.2 931.2,302.2 C934.1,302.2 934.6,300.6 937.5,300.6 C940.3,300.6 941.0,301.0 943.8,301.0 C946.6,301.0 947.2,299.4 950.0,299.4 C951.7,299.4 952.3,299.7 953.8,300.6 C955.1,301.5 954.9,303.5 956.2,303.5 C957.4,303.5 958.3,303.1 959.4,303.1 C960.8,303.1 960.6,306.2 961.9,306.2 C964.2,306.2 964.7,302.6 967.5,301.9 C970.0,301.2 971.0,301.9 973.8,301.2 C976.1,300.7 976.5,299.0 978.8,299.0 C979.6,299.0 980.2,299.2 980.6,300.0 C981.9,302.5 981.3,303.6 982.5,306.2 C983.8,309.2 985.1,309.5 986.2,312.5 C987.6,316.1 986.2,321.0 988.1,321.0 C989.7,321.0 992.0,319.0 995.0,319.0 C996.7,319.0 997.0,320.6 998.8,320.6 C1000.4,320.6 1001.1,320.0 1002.5,320.0 C1007.3,320.0 1007.5,328.1 1012.5,328.1 C1016.5,328.1 1018.4,325.4 1022.5,325.4 C1024.0,325.4 1024.1,326.7 1025.0,328.1 C1027.5,332.2 1027.4,333.5 1030.0,337.5 C1031.9,340.5 1032.4,343.8 1035.0,343.8 C1035.8,343.8 1036.4,343.4 1037.5,343.1 C1038.6,342.8 1038.8,342.5 1040.0,342.5 C1044.5,342.5 1046.1,342.5 1050.0,342.5 C1051.7,342.5 1051.6,344.4 1052.5,346.2 C1054.4,350.1 1054.0,351.5 1056.2,355.0 C1057.4,356.8 1058.0,357.5 1060.0,358.1 C1062.8,359.0 1064.1,358.1 1066.9,359.0 C1069.2,359.7 1068.9,361.7 1071.2,362.8 C1076.5,365.2 1078.3,366.9 1083.8,366.9 C1085.3,366.9 1085.3,364.8 1086.9,364.8 C1088.7,364.8 1089.7,364.8 1091.2,365.2 C1093.4,365.9 1093.1,368.2 1095.0,370.0 C1095.9,370.9 1096.7,370.3 1097.5,371.2 C1099.5,373.4 1099.1,374.8 1101.2,376.9 C1103.6,379.3 1104.4,379.9 1107.5,381.2 C1110.1,382.4 1111.5,381.2 1113.8,382.5 C1116.0,383.7 1115.4,385.8 1117.5,387.5 C1119.3,388.9 1120.6,388.1 1122.5,389.4 C1123.5,390.1 1123.3,391.9 1124.0,391.9 C1125.0,391.9 1124.6,388.1 1126.2,388.1 C1129.0,388.1 1130.4,389.4 1133.8,389.4 C1137.1,389.4 1139.0,389.4 1141.2,388.1 C1143.5,386.8 1142.0,383.4 1143.8,380.6 C1144.5,379.4 1145.5,379.4 1146.9,379.4 C1148.0,379.4 1148.5,379.8 1149.4,380.6 C1151.3,382.3 1151.0,383.6 1153.1,385.0 C1156.4,387.1 1157.6,388.5 1161.2,388.5 C1162.9,388.5 1164.0,386.9 1165.0,386.9 C1166.5,386.9 1166.3,389.9 1166.9,392.5 C1167.9,396.9 1167.2,398.4 1168.8,402.5 C1169.2,403.8 1169.9,404.1 1171.2,404.4 C1177.2,405.8 1179.7,404.4 1185.0,406.2 C1188.7,407.5 1188.0,413.5 1191.2,413.5 C1192.5,413.5 1193.3,413.5 1195.0,413.5 C1199.5,413.5 1200.5,412.8 1205.0,411.9 C1208.4,411.1 1209.1,410.1 1212.5,409.8 C1215.8,409.4 1217.1,409.4 1220.0,409.4 C1221.6,409.4 1221.6,410.9 1222.5,412.5 C1223.9,414.9 1223.1,418.1 1225.0,418.1 C1226.5,418.1 1227.9,418.1 1230.0,418.1 C1232.4,418.1 1232.8,415.6 1235.0,415.6 C1237.8,415.6 1238.3,417.7 1241.2,419.0 C1245.1,420.8 1246.0,422.5 1250.0,422.5 C1252.1,422.5 1252.8,422.2 1255.0,422.2 C1258.9,422.2 1259.8,423.1 1263.8,423.1 C1265.5,423.1 1265.8,422.2 1267.5,422.2 C1270.9,422.2 1271.6,423.8 1275.0,423.8 C1277.3,423.8 1277.8,422.5 1280.0,422.5 C1281.1,422.5 1281.8,422.5 1282.5,423.1 C1284.6,425.0 1285.5,430.0 1286.2,430.0 C1288.1,430.0 1287.3,419.0 1288.1,410.0 C1288.7,404.4 1288.2,397.5 1289.4,397.5 C1289.6,397.5 1290.1,399.4 1291.2,399.4 C1296.0,399.4 1297.5,399.4 1302.5,398.5 C1308.2,397.5 1309.3,396.1 1315.0,395.0 C1320.5,393.9 1322.0,394.8 1327.5,393.8 C1330.4,393.2 1330.9,391.2 1333.8,391.2 C1336.6,391.2 1337.5,392.1 1340.0,393.8 C1342.6,395.4 1342.4,398.5 1345.0,398.5 C1346.9,398.5 1347.9,397.9 1350.0,396.9 C1351.3,396.3 1351.4,395.0 1352.5,395.0 C1354.8,395.0 1355.1,397.5 1357.5,399.4 C1359.6,401.0 1360.0,402.0 1362.5,402.8 C1365.1,403.5 1366.3,403.5 1368.8,403.5 C1370.6,403.5 1370.1,400.0 1371.9,400.0 C1374.0,400.0 1375.0,401.2 1377.5,401.2 C1379.8,401.2 1380.1,399.4 1382.5,399.4 C1388.0,399.4 1389.5,399.4 1395.0,399.4 C1397.4,399.4 1397.8,400.3 1400.0,401.2 C1401.2,401.8 1401.9,401.6 1402.5,402.8 C1404.2,406.1 1404.2,407.4 1405.0,411.2 C1405.6,413.9 1405.0,417.2 1405.6,417.2 C1406.3,417.2 1409.6,417.2 1412.5,417.2 C1414.4,417.2 1414.4,420.0 1416.2,420.0 C1418.1,420.0 1419.2,419.9 1420.6,418.8 C1422.0,417.7 1421.7,416.7 1422.5,415.0 C1423.4,413.1 1422.8,410.6 1424.4,410.6 C1426.2,410.6 1427.6,410.6 1430.0,411.0 C1433.5,411.6 1434.0,414.8 1437.5,414.8 C1439.6,414.8 1440.4,414.6 1442.5,414.0 C1443.7,413.6 1443.8,412.5 1445.0,412.5 C1446.6,412.5 1447.0,414.0 1448.8,414.0 C1450.4,414.0 1451.0,413.8 1452.5,413.8 C1454.4,413.8 1454.5,415.6 1456.2,416.9 C1457.8,418.0 1458.1,419.0 1460.0,419.0 C1466.0,419.0 1467.8,419.0 1473.8,419.0 C1475.1,419.0 1476.0,421.0 1476.2,421.0 C1477.5,421.0 1477.1,413.6 1477.5,407.5 C1478.2,397.4 1477.9,395.1 1478.8,385.0 C1479.0,382.1 1478.9,378.8 1480.0,378.8 C1480.6,378.8 1481.5,380.0 1482.5,381.2 C1484.1,383.3 1483.8,386.0 1485.6,386.0 C1486.9,386.0 1488.4,385.6 1489.4,385.6 C1490.9,385.6 1490.7,388.6 1491.2,391.2 C1492.1,395.4 1491.2,399.2 1492.5,400.6 C1492.8,401.0 1493.9,401.0 1495.0,401.0 C1497.0,401.0 1497.4,399.4 1499.4,399.4 C1500.8,399.4 1501.3,399.8 1502.5,400.6 C1505.5,402.6 1505.6,404.3 1508.8,405.6 C1511.8,406.9 1513.5,405.6 1516.2,406.9 C1519.7,408.4 1519.1,413.8 1522.5,413.8 C1525.3,413.8 1526.9,413.5 1530.0,413.5 C1531.9,413.5 1531.8,416.2 1533.8,416.2 C1536.3,416.2 1537.5,415.2 1540.0,415.2 C1543.1,415.2 1543.2,419.6 1546.2,420.2 C1547.9,420.6 1549.0,420.2 1550.6,420.6 C1552.9,421.1 1552.7,424.8 1555.0,424.8 C1556.9,424.8 1558.0,424.8 1560.0,424.8 C1564.8,424.8 1565.5,431.2 1570.0,431.2 C1571.7,431.2 1571.9,429.0 1573.8,429.0 C1577.0,429.0 1577.9,429.8 1581.2,430.6 C1583.0,431.1 1583.9,430.7 1585.0,431.9 C1586.7,433.7 1586.9,437.2 1587.5,437.2 C1588.9,437.2 1588.2,429.0 1589.4,422.5 C1589.6,421.3 1589.7,420.0 1590.6,420.0 C1591.7,420.0 1592.6,420.3 1593.8,421.2 C1595.4,422.6 1595.2,423.7 1596.9,425.0 C1598.6,426.4 1600.3,425.5 1601.2,427.2 C1603.1,430.5 1602.6,432.2 1603.1,436.2 C1604.0,443.0 1603.4,444.6 1604.4,451.2 C1604.8,454.6 1604.4,457.2 1606.2,458.5 C1607.5,459.4 1609.2,458.5 1611.2,459.4 C1613.7,460.3 1613.8,461.4 1616.2,462.5 C1618.9,463.7 1619.6,464.4 1622.5,464.4 C1626.4,464.4 1627.7,464.0 1631.2,464.0 C1633.0,464.0 1632.6,466.9 1634.4,466.9 C1637.7,466.9 1639.1,466.9 1642.5,466.9 C1645.0,466.9 1645.0,470.0 1647.5,470.0 C1651.2,470.0 1652.5,470.0 1656.2,470.0 C1658.2,470.0 1658.2,467.9 1660.0,467.5 C1661.0,467.2 1661.4,467.2 1662.5,467.2 C1663.7,467.2 1663.8,468.2 1665.0,468.5 C1667.2,469.1 1668.0,468.5 1670.0,469.4 C1672.2,470.3 1672.7,470.8 1674.4,472.5 C1676.1,474.2 1675.8,475.2 1677.5,476.9 C1678.4,477.7 1678.8,478.1 1680.0,478.1 C1682.4,478.1 1683.7,477.5 1685.6,477.5 C1687.7,477.5 1686.9,482.8 1688.8,482.8 C1689.7,482.8 1690.5,482.5 1691.9,482.5 C1694.2,482.5 1694.6,484.4 1696.9,484.4 C1698.2,484.4 1698.8,484.4 1700.0,483.8 C1701.3,483.1 1701.1,481.2 1702.5,481.2 C1705.0,481.2 1706.4,481.2 1708.8,481.9 C1710.9,482.4 1710.3,485.1 1712.5,486.2 C1716.5,488.3 1718.1,489.0 1722.5,489.0 C1724.8,489.0 1725.2,487.3 1727.5,486.9 C1729.7,486.5 1730.6,486.9 1732.5,486.5 C1734.5,486.1 1734.4,484.2 1736.2,482.8 C1737.5,481.8 1738.4,481.2 1739.4,481.2 C1741.5,481.2 1742.3,487.5 1743.1,487.5 C1745.1,487.5 1743.6,477.9 1745.6,471.2 C1746.1,469.8 1747.5,469.4 1748.8,469.4 C1750.5,469.4 1750.5,472.8 1752.5,472.8 C1755.3,472.8 1757.0,472.5 1759.4,472.5 C1761.5,472.5 1760.6,477.1 1762.5,477.5 C1763.7,477.8 1764.7,477.5 1766.2,477.8 C1768.6,478.1 1768.9,480.2 1771.2,480.2 C1773.4,480.2 1774.5,480.2 1776.2,480.2 C1778.5,480.2 1777.8,484.7 1780.0,485.6 C1781.5,486.2 1783.8,485.6 1784.4,486.2 C1785.6,487.5 1785.0,491.1 1785.6,495.0 C1786.2,498.7 1785.9,503.1 1786.9,503.1 C1787.6,503.1 1787.2,497.6 1789.4,497.5 C1793.1,497.2 1795.3,497.5 1800.0,497.2 C1803.5,497.1 1804.1,495.0 1807.5,495.0 C1809.4,495.0 1810.7,495.0 1811.9,495.2 C1813.8,495.7 1812.8,499.3 1814.4,501.9 C1815.0,503.0 1815.9,503.5 1816.9,503.5 C1818.4,503.5 1818.3,500.2 1820.0,500.2 C1821.4,500.2 1822.3,500.2 1823.8,500.2 C1826.0,500.2 1825.9,504.0 1828.1,504.0 C1829.9,504.0 1830.6,502.8 1832.5,502.8 C1835.4,502.8 1835.8,506.0 1838.8,506.0 C1841.4,506.0 1842.2,506.0 1845.0,505.6 C1847.8,505.3 1848.4,504.4 1851.2,504.4 C1852.7,504.4 1853.0,505.0 1854.4,505.0 C1857.0,505.0 1857.6,503.6 1860.0,502.2 C1862.3,500.9 1862.6,500.1 1865.0,499.0 C1867.7,497.7 1868.4,496.9 1871.2,496.9 C1874.0,496.9 1875.6,496.9 1877.5,497.2 C1880.1,497.8 1878.9,505.0 1881.2,505.0 C1882.3,505.0 1883.3,504.0 1885.0,504.0 C1886.7,504.0 1887.9,504.0 1888.8,504.4 C1890.0,504.9 1889.6,507.4 1890.0,510.0 C1890.8,515.6 1890.0,517.1 1891.2,522.5 C1891.7,524.3 1892.4,524.7 1893.8,526.0 C1895.2,527.4 1895.6,528.3 1897.5,528.5 C1899.6,528.8 1900.6,528.5 1902.5,528.8 C1904.2,529.0 1904.0,531.9 1905.6,531.9 C1907.1,531.9 1907.7,530.0 1909.4,530.0 C1912.4,530.0 1913.1,533.1 1916.2,533.1 C1917.8,533.1 1918.4,532.8 1920.0,532.8 C1922.9,532.8 1923.5,535.6 1926.2,535.6 C1928.0,535.6 1928.2,533.5 1930.0,533.5 C1931.3,533.5 1932.3,533.5 1933.1,533.8 C1935.7,534.6 1934.7,541.3 1937.5,543.1 C1938.9,544.0 1941.2,543.1 1942.5,544.0 C1944.6,545.4 1943.3,548.7 1945.0,551.9 C1945.6,553.0 1946.2,553.2 1947.5,553.5 C1951.0,554.3 1952.3,553.5 1955.6,554.4 C1957.7,554.9 1957.6,557.8 1959.4,557.8 C1960.7,557.8 1961.0,556.5 1962.5,556.0 C1964.6,555.3 1966.7,556.0 1967.5,555.0 C1969.4,552.8 1968.8,548.8 1969.4,543.8 C1970.5,533.7 1969.7,530.9 1971.2,521.2 C1971.4,520.3 1972.4,520.2 1973.1,520.2 C1976.3,520.2 1976.6,525.6 1980.0,525.6 C1983.0,525.6 1984.1,523.8 1987.5,523.8 C1988.9,523.8 1990.0,524.4 1990.6,524.4 C1991.9,524.4 1990.8,520.6 1991.9,518.1 C1992.2,517.2 1993.1,516.9 1993.8,516.9 C1997.6,516.9 1997.7,526.2 2001.9,526.2 C2003.9,526.2 2005.1,524.4 2007.5,524.4 C2011.5,524.4 2013.3,525.9 2016.2,528.8 C2018.3,530.7 2017.2,532.6 2018.8,535.0 C2019.4,536.1 2020.0,536.5 2021.2,536.5 C2025.6,536.5 2026.8,535.0 2031.2,535.0 C2033.8,535.0 2034.3,536.5 2036.9,536.5 C2038.8,536.5 2039.3,535.6 2041.2,535.6 C2045.2,535.6 2046.0,538.2 2050.0,538.8 C2051.9,539.0 2054.0,538.8 2054.4,539.0 C2055.6,539.8 2055.1,546.4 2055.6,552.5 C2056.3,560.6 2055.6,570.6 2056.9,570.6 C2057.2,570.6 2060.0,569.4 2061.2,569.4 C2064.2,569.4 2063.6,575.0 2066.2,578.8 C2067.0,579.7 2067.6,580.0 2068.8,580.0 C2070.4,580.0 2071.0,579.8 2072.5,579.0 C2073.8,578.4 2073.7,576.9 2075.0,576.9 C2076.0,576.9 2076.4,576.9 2077.5,577.2 C2079.8,578.0 2080.2,578.5 2082.5,579.4 C2084.7,580.2 2085.3,581.0 2087.5,581.0 C2089.3,581.0 2089.4,579.2 2091.2,579.0 C2093.9,578.8 2094.8,578.8 2097.5,578.8 C2100.9,578.8 2101.5,581.0 2105.0,581.0 C2109.4,581.0 2111.0,580.6 2115.0,580.6 C2117.1,580.6 2116.8,584.4 2118.8,584.4 C2120.1,584.4 2121.5,584.4 2122.5,584.4 C2124.0,584.4 2122.8,580.9 2124.4,579.4 C2126.2,577.6 2127.4,577.7 2130.0,576.9 C2132.7,576.0 2133.7,576.7 2136.2,575.6 C2138.2,574.8 2138.2,572.5 2140.0,572.5 C2141.0,572.5 2142.1,572.5 2142.5,573.1 C2144.1,575.4 2143.5,578.3 2144.4,582.5 C2145.2,586.2 2144.4,589.8 2146.2,590.6 C2147.7,591.2 2149.8,590.6 2152.5,591.2 C2157.1,592.3 2157.9,595.2 2162.5,595.2 C2164.1,595.2 2165.7,595.2 2166.2,595.2 C2167.5,595.2 2166.7,590.9 2167.5,587.5 C2167.8,586.3 2168.2,585.0 2168.8,585.0 C2169.3,585.0 2169.6,586.3 2170.0,587.5 C2170.8,590.0 2170.0,592.8 2171.2,593.1 C2172.9,593.5 2175.7,593.1 2178.8,593.5 C2181.4,593.8 2181.3,597.7 2183.7,597.7 C2185.2,597.7 2186.1,597.7 2187.5,596.7 C2189.9,595.0 2189.9,591.6 2192.2,591.6 C2192.9,591.6 2193.6,591.8 2194.1,592.5 C2195.1,594.1 2194.1,595.8 2195.5,596.7 C2197.7,598.1 2200.1,596.7 2202.5,598.1 C2204.6,599.4 2203.5,601.6 2205.3,603.7 C2207.8,606.7 2208.6,608.0 2211.9,609.4 C2214.1,610.3 2215.0,610.3 2217.5,610.3 C2220.0,610.3 2220.6,609.2 2223.1,609.2 C2226.5,609.2 2227.4,611.7 2230.6,611.7 C2231.6,611.7 2231.8,611.1 2232.5,610.3 C2234.3,608.3 2233.8,605.4 2236.2,605.4 C2242.2,605.4 2245.0,605.4 2251.2,605.8 C2253.0,605.9 2252.4,608.9 2254.1,608.9 C2258.3,608.9 2259.7,606.7 2264.4,606.7 C2266.5,606.7 2267.0,607.1 2269.1,607.7 C2271.6,608.5 2272.0,609.3 2274.7,609.8 C2282.6,611.4 2284.7,610.6 2292.5,612.2 C2294.8,612.7 2295.0,613.8 2297.2,614.5 C2299.2,615.2 2299.7,615.5 2301.9,615.5 C2305.2,615.5 2306.1,615.2 2309.4,614.5 C2311.1,614.2 2311.4,613.1 2313.1,613.1 C2315.6,613.1 2316.6,613.1 2318.7,613.1 C2320.0,613.1 2320.0,614.6 2320.6,615.9 C2322.1,619.2 2321.6,620.5 2323.4,623.4 C2324.2,624.6 2324.8,625.1 2326.2,625.1 C2329.5,625.1 2330.5,623.9 2333.7,623.9 C2336.4,623.9 2336.8,625.6 2339.4,626.2 C2341.4,626.7 2342.2,626.7 2344.1,626.7 C2345.4,626.7 2345.6,625.6 2346.4,624.4 C2347.3,622.9 2346.4,621.3 2347.8,620.6 C2351.5,618.9 2353.5,618.9 2358.1,618.9 C2361.5,618.9 2362.2,621.1 2365.6,621.1 C2369.8,621.1 2371.0,621.1 2375.0,621.1 C2377.3,621.1 2377.4,619.2 2379.7,618.3 C2382.5,617.1 2383.2,617.0 2386.2,616.4 C2389.6,615.7 2390.8,616.4 2393.7,615.5 C2395.8,614.8 2396.2,613.7 2397.5,611.7 C2398.8,609.8 2397.8,607.2 2399.4,606.7 C2400.8,606.4 2402.5,606.4 2404.1,606.4 C2405.9,606.4 2405.8,609.0 2406.9,611.2 C2407.9,613.5 2408.7,616.4 2408.7,616.4" fill="none" stroke="#2cad80" stroke-width="1.8" stroke-linejoin="round"/>
<g id="wm" opacity="0.8">
<g fill="#b9b9b9">
<ellipse cx="2243.2" cy="592.8" rx="16.2" ry="13.4"/>
<ellipse cx="2227.6" cy="588.9" rx="5.9" ry="3.9" transform="rotate(-8 2227.6 588.9)"/>
<ellipse cx="2258.6" cy="588.7" rx="5.7" ry="3.9" transform="rotate(8 2258.6 588.7)"/>
<path d="M2231.6,583 L2233.4,578.2 L2236.4,581.6 Z"/>
<path d="M2250.2,581.4 L2253,578.4 L2254.8,583 Z"/>
<path d="M2234,603.5 L2252.5,603.5 L2257,613 L2253.2,616.5 L2253.2,623.6 Q2249.2,626.6 2245.4,623.6 L2245,617 L2243.6,617 L2243.6,623.6 Q2239.6,626.6 2235.4,623.6 L2235,616.5 L2231,613.6 Z"/>
<path d="M2235.5,619.5 L2229.2,624.6" stroke="#b9b9b9" stroke-width="1.6" stroke-linecap="round"/>
</g>
<text x="2274.5" y="611.5" class="wm" textLength="134.3" lengthAdjust="spacingAndGlyphs">coinglass</text>
</g>
<path d="M119.4,612.0 C119.4,612.0 121.6,610.1 123.1,610.1 C128.0,610.1 129.0,619.5 133.4,619.5 C135.7,619.5 135.7,613.9 138.1,613.9 C139.0,613.9 140.6,613.9 140.9,613.9 C143.5,613.9 143.2,602.1 144.6,592.4 C146.1,582.3 146.3,580.0 147.5,569.9 C148.4,561.1 147.5,550.2 149.3,550.2 C150.0,550.2 151.6,556.8 153.1,556.8 C154.5,556.8 154.0,550.2 155.9,550.2 C157.0,550.2 158.0,552.1 159.6,552.1 C160.9,552.1 162.1,551.6 162.4,550.2 C164.6,540.3 163.9,537.3 165.2,526.8 C166.0,521.3 166.4,514.6 167.1,514.6 C168.7,514.6 168.4,541.8 170.3,541.8 C171.3,541.8 171.5,533.8 173.7,527.8 C174.7,524.9 176.0,524.8 177.4,522.1 C178.9,519.3 178.2,517.8 180.2,515.6 C182.4,513.2 185.5,514.7 186.8,511.8 C190.1,504.6 187.5,493.1 190.5,493.1 C191.3,493.1 194.0,494.0 195.2,494.0 C197.4,494.0 196.9,485.6 198.0,485.6 C200.7,485.6 201.8,496.8 203.6,506.2 C205.9,517.9 205.5,532.4 207.0,532.4 C208.0,532.4 207.1,522.3 209.3,515.6 C209.8,513.9 212.6,513.7 213.0,513.7 C216.4,513.7 215.8,553.0 217.7,553.0 C219.4,553.0 218.4,517.5 220.9,517.5 C222.6,517.5 222.7,540.9 227.0,540.9 C228.1,540.9 231.9,540.9 232.7,539.9 C237.0,534.3 234.5,520.6 238.3,506.2 C238.8,504.4 240.5,504.0 242.0,504.0 C243.5,504.0 243.8,507.2 244.8,507.2 C246.7,507.2 246.4,500.2 248.6,500.2 C251.0,500.2 253.0,506.2 255.1,506.2 C257.6,506.2 257.5,496.9 258.9,496.9 C260.5,496.9 260.8,503.0 261.7,508.1 C263.4,518.1 262.0,530.6 264.5,530.6 C264.9,530.6 267.7,530.6 268.2,529.6 C270.6,525.7 268.8,513.7 271.0,513.7 C271.8,513.7 273.3,517.5 274.8,517.5 C277.5,517.5 278.7,513.7 280.4,510.0 C283.5,503.2 283.6,494.0 285.7,494.0 C287.6,494.0 287.4,509.0 289.2,509.0 C290.1,509.0 289.8,501.5 291.6,501.5 C292.6,501.5 294.7,501.5 295.4,502.5 C298.1,506.2 298.1,510.6 299.1,517.5 C300.8,527.9 299.3,540.9 301.4,540.9 C302.3,540.9 304.2,531.5 305.7,531.5 C307.4,531.5 305.7,543.7 308.5,543.7 C310.4,543.7 314.2,543.7 316.9,543.7 C320.1,543.7 318.7,538.1 321.6,535.2 C323.4,533.5 325.7,535.2 327.2,533.4 C329.8,530.2 328.7,524.0 330.6,524.0 C331.7,524.0 333.0,526.3 333.8,528.7 C335.3,533.1 333.8,539.0 335.7,539.0 C336.5,539.0 338.5,537.7 340.3,537.7 C344.9,537.7 345.6,545.5 349.7,545.5 C351.4,545.5 352.4,541.8 353.1,541.8 C355.4,541.8 354.9,551.1 356.3,558.7 C357.6,565.8 356.7,574.6 359.1,574.6 C359.6,574.6 362.2,574.6 362.8,573.6 C365.6,569.0 364.6,563.3 366.6,554.9 C368.0,548.9 367.5,544.5 370.3,541.8 C371.3,540.9 373.7,540.9 375.0,540.9 C379.6,540.9 380.0,556.8 383.4,556.8 C385.5,556.8 385.8,546.5 387.2,546.5 C388.8,546.5 387.5,557.0 390.0,559.6 C390.8,560.5 393.5,560.5 394.6,560.5 C398.1,560.5 397.6,547.4 400.3,547.4 C401.8,547.4 403.4,554.9 404.0,554.9 C405.9,554.9 404.0,540.9 405.9,530.6 C406.3,528.3 408.4,526.8 409.6,526.8 C411.0,526.8 410.7,532.4 411.5,532.4 C412.8,532.4 411.9,523.1 414.3,523.1 C416.1,523.1 420.0,526.8 420.9,526.8 C424.2,526.8 421.7,496.9 424.2,496.9 C425.1,496.9 426.6,501.6 428.4,505.6 C430.6,510.2 430.3,515.9 433.1,515.9 C435.4,515.9 436.6,509.3 439.7,509.3 C441.2,509.3 441.7,512.1 443.4,512.1 C445.4,512.1 446.5,509.3 448.1,509.3 C451.5,509.3 451.7,518.7 454.6,518.7 C455.9,518.7 456.1,514.9 457.5,514.9 C459.1,514.9 459.1,519.1 461.2,519.1 C464.5,519.1 467.5,519.1 469.6,516.8 C473.8,512.5 471.9,507.5 475.2,500.9 C476.2,499.1 477.4,498.1 479.0,498.1 C480.8,498.1 481.5,499.9 482.7,501.8 C484.4,504.5 483.3,508.4 485.5,508.4 C488.3,508.4 490.7,506.5 494.0,506.5 C495.7,506.5 496.1,508.3 496.8,510.3 C498.2,514.6 497.3,520.6 498.7,520.6 C499.4,520.6 500.2,514.9 501.5,514.9 C504.4,514.9 503.8,528.1 508.0,528.1 C510.6,528.1 513.4,525.2 516.4,525.2 C520.1,525.2 519.4,530.8 523.0,533.7 C525.3,535.5 527.0,534.1 529.6,535.5 C531.2,536.5 530.7,538.6 532.4,538.9 C534.1,539.3 535.9,538.9 537.0,539.3 C539.3,540.1 539.0,544.4 539.9,548.7 C541.1,554.5 540.1,561.8 541.7,561.8 C542.8,561.8 543.7,554.3 545.8,554.3 C547.1,554.3 547.7,558.0 549.2,558.0 C550.4,558.0 550.9,555.2 552.0,555.2 C554.3,555.2 554.4,561.8 556.7,561.8 C558.6,561.8 560.0,559.6 561.4,557.1 C563.4,553.3 562.2,547.7 564.2,547.7 C564.8,547.7 566.7,547.7 567.0,547.7 C568.8,547.7 567.8,558.6 568.9,567.4 C569.7,574.6 569.2,583.3 571.3,583.3 C571.7,583.3 573.8,583.3 574.5,583.3 C576.0,583.3 575.5,576.7 576.4,576.7 C578.0,576.7 578.1,588.9 580.1,588.9 C582.3,588.9 582.1,576.7 585.7,576.7 C588.0,576.7 590.3,580.5 593.2,580.5 C595.8,580.5 596.5,577.8 597.9,574.9 C600.7,569.3 601.1,567.8 602.6,561.8 C605.3,551.0 604.5,548.1 607.3,537.4 C607.7,535.9 608.5,534.6 609.5,534.6 C611.5,534.6 611.5,540.2 613.8,540.2 C615.1,540.2 617.0,540.2 617.6,540.2 C619.9,540.2 618.1,532.1 620.4,526.2 C622.3,521.1 623.8,515.9 626.9,515.9 C628.5,515.9 629.4,518.2 630.7,520.6 C633.2,525.0 632.4,530.9 635.4,530.9 C636.6,530.9 639.1,530.9 640.0,530.9 C642.9,530.9 640.6,521.1 643.8,517.8 C645.6,515.9 649.0,515.9 651.3,515.9 C653.6,515.9 652.4,520.2 654.1,523.4 C655.8,526.5 657.2,526.7 658.8,529.9 C660.6,533.9 660.5,535.0 661.6,539.3 C663.0,545.1 662.7,546.6 664.4,552.4 C665.6,556.7 666.9,557.4 668.1,561.8 C670.3,569.2 670.6,571.0 671.9,578.6 C673.4,587.8 672.5,599.2 674.3,599.2 C675.3,599.2 675.9,588.9 678.1,588.9 C679.0,588.9 680.9,592.7 681.2,592.7 C683.8,592.7 681.2,555.2 684.4,555.2 C684.9,555.2 687.4,556.7 689.7,558.0 C691.0,558.8 691.9,558.6 692.5,559.9 C694.4,564.5 693.3,571.1 695.3,571.1 C697.1,571.1 698.8,561.8 700.9,561.8 C704.3,561.8 703.8,577.7 707.5,577.7 C709.7,577.7 710.8,569.3 714.0,569.3 C715.8,569.3 716.9,573.0 718.7,573.0 C720.3,573.0 719.8,568.3 721.5,568.3 C722.7,568.3 724.4,569.3 725.2,569.3 C727.8,569.3 726.9,558.0 729.0,558.0 C729.8,558.0 731.3,561.8 731.8,561.8 C734.2,561.8 733.2,549.9 735.5,541.2 C735.8,540.3 736.5,540.2 737.5,540.2 C740.0,540.2 741.8,540.2 743.1,540.8 C745.5,541.8 745.0,546.1 745.9,550.5 C747.5,558.0 746.7,560.2 748.7,567.4 C749.2,569.0 750.1,570.2 751.5,570.2 C753.4,570.2 754.2,568.3 756.2,568.3 C758.4,568.3 759.6,569.2 760.9,571.1 C763.4,574.7 763.1,580.5 764.6,580.5 C766.0,580.5 765.7,575.5 767.5,572.1 C768.0,570.9 769.2,570.2 769.7,570.2 C771.1,570.2 769.9,578.6 771.6,578.6 C772.3,578.6 774.0,576.7 774.9,576.7 C776.8,576.7 776.8,580.8 777.8,584.2 C779.7,591.3 779.0,600.1 781.5,600.1 C782.0,600.1 783.3,600.0 784.3,599.2 C787.1,597.1 788.3,596.7 789.9,593.6 C792.5,588.7 791.4,586.6 793.7,581.4 C794.4,579.8 795.0,578.6 796.5,578.6 C797.9,578.6 799.5,579.6 800.2,579.6 C802.9,579.6 802.0,571.7 804.0,565.5 C804.5,563.7 804.7,561.8 805.8,561.8 C807.3,561.8 808.1,563.6 809.6,565.5 C812.8,569.5 813.4,574.9 816.1,574.9 C817.6,574.9 818.1,571.9 819.0,569.3 C821.0,562.7 820.4,560.8 822.7,554.3 C824.2,550.2 824.2,548.4 827.4,545.8 C830.6,543.3 832.5,543.0 836.7,543.0 C838.4,543.0 839.2,544.0 840.5,544.0 C842.1,544.0 842.1,540.2 843.3,540.2 C844.8,540.2 845.6,544.9 846.5,544.9 C848.5,544.9 847.5,537.7 849.9,532.7 C850.7,530.8 851.6,529.6 853.6,529.6 C855.8,529.6 857.3,529.6 859.2,529.6 C861.6,529.6 862.0,532.6 863.0,535.5 C865.0,542.0 864.2,543.8 865.8,550.5 C866.8,554.8 866.3,559.9 868.6,559.9 C869.7,559.9 872.1,559.9 873.3,559.9 C875.8,559.9 874.9,554.5 877.0,550.5 C877.9,548.8 878.5,547.2 879.8,547.2 C881.5,547.2 881.5,550.6 883.6,551.5 C884.9,552.0 886.3,551.5 887.3,552.0 C889.7,553.3 888.8,556.9 891.0,559.9 C892.1,561.3 894.1,561.8 894.8,561.8 C897.0,561.8 895.5,554.1 897.6,548.7 C898.4,546.5 899.5,544.9 901.3,544.9 C902.5,544.9 903.7,546.8 904.2,546.8 C906.3,546.8 904.9,537.3 907.0,529.9 C908.3,525.1 908.6,521.5 911.6,519.6 C913.2,518.7 915.1,519.6 917.3,518.7 C919.7,517.7 919.6,515.8 921.9,514.6 C923.0,514.0 923.7,514.6 924.8,514.0 C926.5,513.0 927.1,510.3 928.1,510.3 C930.0,510.3 929.1,516.4 931.3,519.1 C932.2,520.2 933.8,519.2 935.1,520.2 C936.7,521.5 936.8,524.3 937.9,524.3 C939.8,524.3 940.1,515.9 941.6,515.9 C943.1,515.9 942.3,524.3 944.4,524.3 C946.1,524.3 948.2,522.2 950.0,519.6 C952.4,516.3 952.8,515.2 953.8,511.2 C956.2,501.7 955.0,497.5 957.5,489.7 C957.8,488.7 959.5,488.7 960.0,488.7 C962.4,488.7 961.6,496.3 964.1,501.8 C965.2,504.3 965.8,504.8 967.8,506.5 C969.2,507.7 970.0,507.3 971.6,508.4 C973.4,509.6 973.5,511.6 975.3,511.6 C976.9,511.6 978.7,511.1 979.1,509.3 C980.9,500.8 980.2,498.0 980.9,488.7 C981.6,480.5 980.9,477.8 982.2,470.4 C982.5,468.3 984.8,469.0 986.9,467.6 C989.4,466.0 991.6,466.6 992.5,463.9 C995.3,455.2 994.5,452.1 995.3,442.4 C996.6,425.5 996.2,421.8 997.2,404.9 C997.4,399.8 997.2,393.7 998.1,393.7 C998.5,393.7 1001.7,394.6 1002.8,394.6 C1005.1,394.6 1004.4,384.3 1005.6,384.3 C1007.4,384.3 1008.0,400.2 1009.3,400.2 C1011.0,400.2 1009.3,379.1 1012.1,379.1 C1013.3,379.1 1016.1,385.2 1018.7,385.2 C1021.6,385.2 1022.6,381.0 1024.3,376.8 C1027.2,370.0 1027.5,368.2 1029.0,360.9 C1030.8,352.2 1030.1,350.0 1031.8,341.2 C1032.6,337.3 1032.8,332.8 1034.6,332.8 C1035.8,332.8 1036.5,335.6 1038.4,337.5 C1038.9,338.1 1039.2,338.1 1040.0,338.4 C1041.6,338.9 1043.2,338.4 1043.7,339.3 C1045.9,343.0 1045.0,347.5 1046.0,354.3 C1047.1,362.3 1046.4,372.1 1048.4,372.1 C1048.8,372.1 1050.9,372.1 1051.2,371.1 C1053.2,365.2 1051.5,360.5 1053.5,352.4 C1054.1,349.9 1055.6,350.0 1056.9,347.7 C1058.4,344.8 1058.1,340.8 1059.7,340.8 C1061.0,340.8 1061.6,345.8 1063.4,345.8 C1064.9,345.8 1065.8,342.1 1067.2,342.1 C1069.2,342.1 1068.8,349.6 1070.9,349.6 C1071.7,349.6 1073.2,349.1 1073.7,347.7 C1076.1,341.9 1075.6,333.7 1077.5,333.7 C1078.6,333.7 1079.2,342.1 1080.3,342.1 C1082.2,342.1 1081.3,332.6 1084.0,326.2 C1084.7,324.5 1086.7,325.7 1087.8,324.3 C1089.4,322.2 1089.6,318.3 1090.2,318.3 C1092.1,318.3 1091.2,330.1 1093.4,339.3 C1094.0,342.1 1095.9,344.9 1096.6,344.9 C1099.3,344.9 1098.1,319.1 1100.9,319.1 C1101.5,319.1 1102.8,324.3 1104.0,324.3 C1105.7,324.3 1105.1,318.4 1107.4,316.8 C1108.7,315.9 1111.5,316.8 1112.1,315.9 C1115.3,310.9 1113.2,301.4 1115.8,290.6 C1116.2,289.2 1117.3,288.7 1118.7,288.7 C1120.2,288.7 1122.1,288.7 1122.4,289.7 C1124.3,296.3 1123.3,304.6 1124.3,316.8 C1125.1,326.9 1124.3,339.3 1126.5,339.3 C1127.0,339.3 1130.4,339.3 1131.8,339.3 C1134.4,339.3 1133.6,344.6 1135.5,348.7 C1136.9,351.7 1137.3,355.2 1139.3,355.2 C1140.3,355.2 1141.6,354.1 1142.1,352.4 C1144.6,343.1 1143.2,339.9 1145.8,330.9 C1146.2,329.6 1148.2,329.6 1148.6,329.6 C1150.3,329.6 1149.5,337.0 1150.5,343.0 C1151.6,349.4 1151.5,351.2 1153.3,357.1 C1153.6,357.9 1154.5,358.0 1155.2,358.0 C1156.6,358.0 1157.0,354.3 1158.0,354.3 C1161.2,354.3 1161.2,368.3 1164.5,368.3 C1165.0,368.3 1165.9,368.2 1166.4,367.4 C1168.9,363.5 1169.4,362.4 1171.1,358.0 C1174.8,348.5 1173.9,343.7 1178.6,336.5 C1179.8,334.6 1182.8,336.5 1184.2,334.6 C1186.6,331.2 1186.0,329.0 1187.0,324.3 C1188.1,318.9 1188.3,312.1 1188.9,312.1 C1190.2,312.1 1189.6,327.2 1191.3,339.3 C1192.1,345.3 1193.2,346.5 1194.5,352.4 C1196.3,360.4 1196.5,370.2 1198.2,370.2 C1199.4,370.2 1198.2,358.4 1201.0,358.0 C1203.8,357.6 1211.4,358.0 1213.2,357.6 C1215.1,357.2 1214.3,350.6 1215.1,344.9 C1216.4,335.2 1215.1,323.4 1217.9,323.4 C1218.6,323.4 1222.8,324.3 1223.5,324.3 C1226.3,324.3 1224.1,310.9 1226.3,300.9 C1226.6,299.5 1228.7,299.0 1229.1,299.0 C1231.2,299.0 1229.8,314.9 1231.9,314.9 C1232.3,314.9 1234.5,314.9 1234.8,314.9 C1237.4,314.9 1236.2,300.6 1238.5,289.7 C1238.7,288.8 1240.1,288.7 1240.4,288.7 C1242.2,288.7 1241.0,302.8 1243.2,302.8 C1244.3,302.8 1245.3,297.2 1247.9,297.2 C1249.5,297.2 1251.5,297.2 1252.5,298.1 C1255.3,300.6 1253.7,305.3 1256.3,310.3 C1258.3,314.1 1260.8,317.8 1262.8,317.8 C1265.4,317.8 1264.7,311.0 1266.6,305.6 C1267.9,302.0 1268.8,297.7 1270.0,297.7 C1271.8,297.7 1271.4,305.2 1273.1,311.2 C1274.3,315.1 1275.4,315.7 1276.3,319.6 C1278.4,328.3 1278.4,339.3 1279.7,339.3 C1281.1,339.3 1280.7,317.8 1282.5,317.8 C1282.6,317.8 1283.9,317.8 1284.0,318.3 C1285.8,325.7 1285.1,330.0 1286.8,339.3 C1287.4,342.3 1287.1,345.8 1289.1,345.8 C1290.6,345.8 1292.2,345.8 1294.7,345.8 C1299.3,345.8 1301.5,346.4 1305.0,346.4 C1307.2,346.4 1306.6,340.2 1307.4,340.2 C1308.7,340.2 1308.4,350.5 1309.7,350.5 C1311.2,350.5 1311.8,338.4 1313.8,338.4 C1314.7,338.4 1314.6,344.0 1316.2,344.0 C1317.8,344.0 1318.6,340.8 1320.9,340.8 C1322.4,340.8 1323.7,340.8 1324.6,340.8 C1327.1,340.8 1326.1,346.6 1328.4,349.6 C1329.1,350.5 1330.6,350.5 1331.2,350.5 C1333.6,350.5 1332.8,343.6 1334.9,338.4 C1335.6,336.7 1336.7,335.2 1337.4,335.2 C1339.3,335.2 1338.1,346.8 1340.6,346.8 C1341.4,346.8 1343.2,345.9 1344.7,345.9 C1346.3,345.9 1347.0,347.7 1347.5,349.7 C1349.5,357.8 1349.0,360.0 1350.3,368.4 C1351.5,376.4 1352.0,378.2 1353.1,386.2 C1354.1,393.7 1354.1,395.5 1355.0,403.0 C1355.7,409.4 1355.0,417.1 1356.9,417.1 C1357.5,417.1 1360.5,417.1 1361.5,417.1 C1363.4,417.1 1362.9,412.5 1363.4,408.7 C1364.8,398.6 1364.1,396.1 1365.8,386.2 C1366.2,383.9 1367.3,381.5 1368.1,381.5 C1369.4,381.5 1369.8,386.0 1370.3,389.9 C1371.9,400.8 1371.7,403.3 1372.8,414.3 C1374.1,428.6 1373.8,431.9 1375.6,446.1 C1376.0,449.1 1376.3,452.7 1377.5,452.7 C1378.0,452.7 1379.0,451.3 1379.3,449.9 C1381.1,440.8 1380.4,429.3 1382.1,429.3 C1382.9,429.3 1384.0,437.7 1384.9,437.7 C1386.8,437.7 1386.6,419.9 1388.3,419.9 C1389.1,419.9 1389.0,428.3 1390.6,428.3 C1391.7,428.3 1392.0,424.4 1394.3,422.7 C1397.0,420.6 1400.8,422.7 1401.8,419.9 C1403.7,414.7 1402.8,411.6 1403.7,404.9 C1404.0,402.4 1403.7,399.3 1404.6,399.3 C1405.3,399.3 1405.9,402.1 1407.4,402.1 C1409.3,402.1 1411.4,400.2 1412.1,400.2 C1414.0,400.2 1412.8,408.0 1414.0,414.3 C1414.9,419.4 1414.9,420.7 1416.8,425.5 C1417.9,428.3 1418.4,431.1 1420.5,431.1 C1421.7,431.1 1423.7,431.1 1424.3,431.1 C1426.6,431.1 1425.1,422.5 1427.1,416.1 C1427.6,414.5 1429.0,413.3 1429.9,413.3 C1431.5,413.3 1431.7,416.9 1432.7,419.9 C1433.8,423.2 1432.8,424.8 1434.6,427.4 C1435.7,429.0 1438.6,427.4 1439.3,429.3 C1442.0,437.0 1440.6,440.6 1442.1,449.9 C1443.0,455.8 1442.8,463.0 1444.5,463.0 C1445.1,463.0 1446.9,461.2 1447.1,459.2 C1448.9,445.2 1447.8,427.4 1449.0,427.4 C1449.7,427.4 1449.7,446.1 1451.4,446.1 C1451.6,446.1 1453.2,446.1 1453.3,446.1 C1454.9,446.1 1453.5,433.5 1455.2,423.6 C1455.6,420.9 1456.3,420.2 1458.0,418.0 C1459.2,416.4 1459.9,415.2 1461.7,415.2 C1462.9,415.2 1463.4,416.1 1464.5,416.1 C1466.3,416.1 1466.5,413.3 1468.3,413.3 C1469.4,413.3 1469.8,414.3 1471.1,414.3 C1472.4,414.3 1473.6,414.3 1473.9,413.3 C1475.7,406.5 1474.8,401.5 1475.8,391.8 C1476.9,380.4 1476.3,377.3 1478.6,366.5 C1478.9,365.1 1480.0,365.2 1481.4,364.6 C1483.4,363.9 1484.3,364.6 1486.1,363.7 C1488.5,362.4 1488.3,360.3 1490.7,359.0 C1492.5,358.1 1493.6,358.1 1495.4,358.1 C1497.4,358.1 1497.7,361.8 1499.2,361.8 C1501.1,361.8 1500.9,355.8 1502.9,355.8 C1503.8,355.8 1505.1,357.2 1505.7,357.2 C1507.6,357.2 1506.7,352.0 1508.5,348.7 C1509.2,347.5 1510.3,347.2 1511.3,347.2 C1513.7,347.2 1513.9,350.2 1516.0,352.5 C1518.1,354.6 1518.3,357.2 1520.7,357.2 C1522.1,357.2 1523.7,357.2 1524.5,356.2 C1526.3,353.9 1526.0,351.1 1526.3,346.9 C1527.6,331.4 1527.0,327.8 1528.1,312.4 C1528.2,310.6 1528.1,309.8 1529.0,308.6 C1530.4,306.9 1531.9,307.4 1533.7,305.8 C1536.5,303.2 1536.7,299.3 1539.3,299.3 C1540.2,299.3 1541.2,299.9 1541.6,301.1 C1543.0,305.4 1542.5,311.4 1543.4,311.4 C1544.5,311.4 1543.4,300.2 1545.9,300.2 C1547.9,300.2 1549.9,305.8 1553.4,305.8 C1556.2,305.8 1558.0,304.7 1559.9,302.1 C1564.3,295.9 1564.6,293.5 1567.4,286.1 C1569.7,280.0 1569.5,278.4 1571.2,272.1 C1572.5,267.1 1572.8,260.9 1574.0,260.9 C1575.4,260.9 1574.5,274.9 1576.8,274.9 C1577.4,274.9 1579.5,273.0 1580.5,273.0 C1582.7,273.0 1582.6,280.9 1583.9,280.9 C1585.6,280.9 1585.0,270.2 1587.1,270.2 C1588.1,270.2 1589.6,272.0 1590.8,274.0 C1594.2,279.5 1594.7,281.1 1597.4,287.1 C1599.4,291.6 1598.7,297.4 1601.1,297.4 C1602.5,297.4 1604.7,293.6 1605.8,293.6 C1608.0,293.6 1607.6,299.8 1608.6,304.9 C1609.9,311.1 1609.9,318.9 1611.0,318.9 C1612.8,318.9 1613.4,307.1 1615.2,297.4 C1616.5,289.8 1616.8,288.1 1618.0,280.5 C1618.9,274.2 1618.0,269.9 1619.9,266.5 C1620.4,265.5 1622.4,265.5 1623.6,265.5 C1625.7,265.5 1626.5,268.3 1627.3,271.2 C1629.8,279.3 1627.9,282.6 1631.1,289.9 C1632.1,292.3 1634.3,291.3 1636.7,292.7 C1640.2,294.7 1640.8,297.4 1644.2,297.4 C1645.8,297.4 1646.6,295.5 1647.9,295.5 C1650.9,295.5 1651.7,299.3 1653.6,303.0 C1656.3,308.5 1656.5,310.1 1658.2,316.1 C1660.0,322.3 1659.4,330.1 1661.4,330.1 C1661.9,330.1 1663.6,329.0 1663.9,327.3 C1665.5,317.6 1664.3,314.9 1665.7,304.9 C1666.9,296.8 1667.5,295.0 1669.5,287.1 C1670.2,284.0 1670.2,280.5 1671.9,280.5 C1673.1,280.5 1674.0,283.3 1676.0,283.3 C1678.0,283.3 1679.0,283.3 1680.7,282.4 C1683.6,280.8 1684.6,276.8 1686.3,276.8 C1688.9,276.8 1688.4,283.0 1690.1,288.0 C1690.9,290.5 1691.4,293.6 1691.9,293.6 C1693.9,293.6 1693.3,282.0 1695.7,273.0 C1696.2,271.0 1697.3,269.3 1698.5,269.3 C1700.7,269.3 1700.4,276.8 1703.2,276.8 C1705.4,276.8 1707.0,274.0 1709.7,274.0 C1711.2,274.0 1711.5,276.8 1712.5,276.8 C1714.4,276.8 1715.1,273.9 1716.3,271.2 C1718.1,266.8 1718.3,265.6 1719.1,260.9 C1720.8,251.3 1720.5,249.0 1721.9,239.3 C1723.0,231.7 1722.1,225.8 1724.7,222.5 C1725.5,221.5 1728.3,222.5 1729.4,221.5 C1732.1,219.2 1730.6,213.2 1733.1,210.3 C1734.0,209.4 1735.9,209.4 1736.9,209.4 C1738.9,209.4 1738.0,216.9 1739.7,216.9 C1741.0,216.9 1742.0,214.4 1743.4,212.2 C1744.8,210.1 1745.0,207.1 1745.9,207.1 C1747.6,207.1 1746.7,217.8 1749.1,217.8 C1749.8,217.8 1751.4,217.8 1752.8,217.8 C1755.2,217.8 1755.1,222.5 1757.5,222.5 C1758.5,222.5 1759.9,222.5 1760.3,222.5 C1762.4,222.5 1761.1,208.4 1763.1,208.4 C1763.6,208.4 1765.1,209.1 1765.9,210.3 C1768.1,213.7 1767.2,215.7 1769.7,218.7 C1771.0,220.4 1772.6,220.6 1774.3,220.6 C1776.4,220.6 1776.7,218.2 1778.1,215.9 C1779.4,213.6 1779.2,210.3 1780.3,210.3 C1781.7,210.3 1781.7,216.9 1783.7,216.9 C1784.9,216.9 1786.8,215.0 1787.5,215.0 C1789.7,215.0 1788.8,222.2 1790.3,228.1 C1791.8,234.4 1791.9,236.0 1794.0,242.1 C1795.0,245.1 1795.6,248.3 1797.2,248.3 C1798.3,248.3 1799.0,246.1 1800.0,244.0 C1801.5,240.7 1801.0,236.5 1802.8,236.5 C1804.4,236.5 1805.6,242.1 1807.5,242.1 C1808.9,242.1 1809.6,239.7 1810.3,237.4 C1812.1,231.3 1810.6,223.4 1813.1,223.4 C1814.0,223.4 1816.8,225.2 1817.8,225.2 C1820.1,225.2 1818.9,218.9 1820.6,214.0 C1821.4,211.7 1822.8,211.7 1823.4,209.3 C1825.4,201.1 1824.9,199.0 1826.2,190.6 C1826.8,187.1 1827.0,182.7 1827.5,182.7 C1828.3,182.7 1828.5,189.1 1829.0,194.3 C1830.0,203.2 1829.0,205.5 1830.9,214.0 C1831.5,216.9 1832.8,217.2 1834.6,219.6 C1835.7,221.0 1835.9,222.4 1837.5,222.4 C1839.3,222.4 1841.1,222.4 1842.1,222.4 C1844.5,222.4 1843.9,228.1 1844.9,232.7 C1846.4,239.0 1846.1,246.8 1847.8,246.8 C1848.8,246.8 1849.7,238.4 1850.9,238.4 C1852.6,238.4 1853.3,249.6 1854.3,249.6 C1856.3,249.6 1855.3,227.1 1857.7,227.1 C1858.3,227.1 1860.0,229.4 1860.9,231.8 C1862.7,236.6 1862.8,237.9 1863.7,243.0 C1865.3,252.2 1865.1,254.4 1866.5,263.6 C1867.0,267.0 1867.2,271.1 1867.8,271.1 C1868.9,271.1 1867.8,258.0 1870.2,258.0 C1871.6,258.0 1875.9,258.0 1877.7,258.0 C1879.6,258.0 1878.9,262.1 1879.6,265.5 C1880.6,270.1 1879.9,275.8 1881.5,275.8 C1882.5,275.8 1883.7,270.2 1885.2,270.2 C1886.8,270.2 1887.6,276.4 1888.4,276.4 C1890.2,276.4 1888.8,267.0 1890.8,259.9 C1891.6,257.0 1892.7,254.3 1894.6,254.3 C1896.4,254.3 1897.0,257.0 1899.3,259.0 C1901.6,261.0 1902.5,263.3 1904.9,263.3 C1907.9,263.3 1908.4,257.1 1911.4,257.1 C1913.0,257.1 1914.5,259.9 1915.2,259.9 C1917.4,259.9 1916.6,251.6 1918.0,244.9 C1919.2,239.0 1918.0,233.3 1920.8,231.8 C1922.6,230.9 1926.1,230.9 1929.2,230.9 C1931.2,230.9 1931.1,235.5 1932.0,235.5 C1933.6,235.5 1932.7,230.1 1934.8,227.1 C1936.1,225.4 1937.5,226.2 1939.5,225.2 C1941.0,224.5 1941.8,223.4 1942.7,223.4 C1944.8,223.4 1944.4,228.1 1946.1,231.8 C1947.2,234.4 1948.0,234.7 1948.9,237.4 C1951.0,244.0 1949.6,252.4 1952.6,252.4 C1954.2,252.4 1957.9,247.7 1959.2,247.7 C1962.4,247.7 1960.5,267.4 1962.5,267.4 C1963.0,267.4 1964.2,265.5 1964.8,263.6 C1967.3,256.2 1968.3,254.5 1969.5,246.8 C1971.6,233.0 1970.2,229.6 1972.3,215.9 C1973.1,210.2 1974.4,209.2 1976.0,203.7 C1977.3,199.5 1976.5,197.4 1978.8,194.3 C1980.3,192.5 1982.8,194.3 1984.5,192.5 C1986.6,190.1 1986.1,188.4 1987.3,185.0 C1988.4,181.6 1988.9,177.5 1989.7,177.5 C1991.4,177.5 1990.0,193.4 1992.9,193.4 C1993.9,193.4 1997.2,191.5 1998.5,191.5 C2000.7,191.5 2000.5,197.1 2000.7,201.8 C2002.2,226.2 2000.9,231.8 2002.2,256.1 C2002.4,259.6 2002.7,260.7 2004.1,263.6 C2004.8,264.9 2006.7,265.5 2006.9,265.5 C2009.2,265.5 2007.0,232.7 2009.7,232.7 C2010.8,232.7 2013.1,238.8 2015.4,244.0 C2017.7,249.3 2018.4,250.5 2020.0,256.1 C2022.2,263.6 2022.0,265.4 2023.8,273.0 C2025.0,278.1 2024.2,284.2 2026.6,284.2 C2027.6,284.2 2029.9,284.2 2031.3,283.3 C2033.3,281.9 2033.2,279.8 2034.1,276.7 C2035.7,271.0 2035.4,263.6 2036.9,263.6 C2037.9,263.6 2037.9,268.5 2039.7,272.1 C2040.9,274.4 2042.4,276.7 2043.4,276.7 C2045.8,276.7 2044.8,269.1 2047.2,263.6 C2048.1,261.5 2049.3,261.6 2050.9,259.9 C2052.6,258.2 2054.1,258.4 2054.7,256.1 C2057.0,247.4 2055.4,235.5 2057.5,235.5 C2057.9,235.5 2059.5,236.8 2060.3,238.4 C2062.5,242.7 2062.5,244.0 2064.0,248.7 C2066.7,257.0 2065.7,267.4 2069.7,267.4 C2070.8,267.4 2072.8,267.2 2075.3,267.0 C2077.4,266.8 2078.4,266.4 2080.0,266.4 C2081.8,266.4 2082.3,268.7 2082.8,271.1 C2084.9,282.7 2084.5,285.6 2085.6,297.5 C2086.6,308.0 2086.1,320.9 2087.5,320.9 C2088.5,320.9 2089.1,305.0 2090.9,305.0 C2092.0,305.0 2092.2,315.3 2094.0,315.3 C2095.3,315.3 2095.9,308.7 2097.8,308.7 C2099.3,308.7 2101.0,313.4 2101.5,313.4 C2103.8,313.4 2101.5,289.0 2104.0,289.0 C2104.4,289.0 2107.4,289.0 2108.1,289.0 C2110.5,289.0 2109.1,296.9 2110.9,303.1 C2112.5,308.7 2114.1,309.6 2115.6,315.3 C2117.4,322.3 2117.2,324.0 2118.4,331.2 C2119.9,340.0 2118.5,343.1 2121.6,350.8 C2122.7,353.6 2126.6,351.8 2127.8,354.6 C2130.6,361.5 2128.4,366.7 2130.6,372.4 C2130.9,373.3 2132.3,373.3 2133.4,373.3 C2135.2,373.3 2135.3,370.1 2137.1,370.1 C2138.1,370.1 2139.3,370.3 2139.6,371.4 C2141.5,382.2 2140.5,385.4 2141.8,396.7 C2142.8,405.2 2142.7,415.4 2144.6,415.4 C2144.8,415.4 2146.0,415.3 2146.5,414.5 C2150.6,407.6 2150.2,398.2 2154.9,398.2 C2156.1,398.2 2158.6,399.5 2159.6,399.5 C2162.0,399.5 2160.9,392.8 2162.4,387.4 C2163.4,383.5 2162.8,378.9 2165.2,378.9 C2167.0,378.9 2170.5,378.9 2171.8,379.9 C2174.6,382.0 2173.1,388.1 2174.6,394.9 C2175.7,399.9 2175.3,406.1 2177.4,406.1 C2178.0,406.1 2180.3,406.1 2180.6,406.1 C2182.8,406.1 2181.2,390.0 2183.0,377.1 C2183.6,372.7 2184.0,367.7 2185.8,367.7 C2186.5,367.7 2188.1,368.9 2188.6,370.5 C2191.0,377.7 2189.4,384.0 2192.4,387.4 C2193.2,388.3 2195.3,388.3 2197.0,388.3 C2199.5,388.3 2199.4,385.4 2201.7,383.6 C2202.8,382.8 2204.1,383.6 2204.5,382.7 C2206.2,379.4 2205.3,372.4 2206.4,372.4 C2207.4,372.4 2207.4,380.8 2209.2,380.8 C2210.3,380.8 2211.6,377.1 2213.0,377.1 C2214.9,377.1 2214.4,383.6 2216.7,383.6 C2218.0,383.6 2220.0,383.6 2220.8,383.6 C2223.0,383.6 2222.2,389.8 2223.3,394.9 C2224.6,401.2 2224.3,408.9 2226.1,408.9 C2227.2,408.9 2228.0,400.1 2229.8,400.1 C2232.6,400.1 2234.2,413.6 2236.4,413.6 C2238.8,413.6 2237.2,403.7 2240.1,397.7 C2241.0,395.8 2242.8,396.9 2244.8,395.8 C2247.0,394.6 2247.8,392.6 2249.5,392.6 C2252.0,392.6 2251.4,398.2 2254.2,399.5 C2256.0,400.5 2257.3,400.5 2259.8,400.5 C2262.0,400.5 2262.8,399.9 2264.5,398.6 C2266.0,397.4 2265.9,394.9 2266.9,394.9 C2268.5,394.9 2268.6,401.4 2270.1,401.4 C2271.7,401.4 2271.8,393.9 2273.8,393.9 C2275.1,393.9 2276.2,397.7 2277.6,397.7 C2279.5,397.7 2279.9,394.2 2281.3,391.1 C2283.7,385.8 2283.7,384.3 2286.0,378.9 C2287.9,374.2 2288.4,373.2 2290.7,368.6 C2292.0,365.9 2292.7,362.6 2294.0,362.6 C2296.1,362.6 2295.8,368.3 2298.2,372.4 C2300.1,375.7 2300.9,376.4 2303.8,378.9 C2305.9,380.8 2306.9,382.1 2309.4,382.1 C2311.6,382.1 2312.0,380.4 2314.1,378.9 C2315.8,377.7 2317.2,378.0 2317.8,376.1 C2320.1,369.2 2319.2,366.8 2320.6,359.3 C2321.7,353.8 2321.4,347.1 2323.4,347.1 C2323.9,347.1 2325.3,347.2 2326.3,348.0 C2327.8,349.3 2327.4,350.7 2329.1,351.8 C2331.2,353.2 2333.6,351.8 2334.7,353.7 C2337.4,358.5 2334.9,365.6 2337.5,368.6 C2338.3,369.6 2341.7,368.6 2342.2,369.6 C2344.4,373.8 2342.5,391.1 2344.4,391.1 C2345.1,391.1 2345.6,384.6 2347.8,384.6 C2349.7,384.6 2350.8,386.3 2353.4,387.4 C2355.9,388.4 2357.6,387.4 2359.0,389.2 C2361.4,392.3 2360.0,398.6 2361.8,398.6 C2364.0,398.6 2365.0,389.0 2368.1,389.0 C2369.4,389.0 2370.9,390.4 2371.5,392.4 C2373.6,399.5 2372.9,401.6 2374.2,409.2 C2375.0,414.3 2374.2,416.9 2376.0,420.4 C2376.5,421.6 2378.9,420.4 2379.3,421.6 C2381.4,426.9 2380.5,430.9 2381.6,438.4 C2382.5,445.0 2382.3,446.6 2383.8,453.0 C2384.3,455.2 2385.0,457.5 2386.1,457.5 C2387.5,457.5 2388.8,451.9 2389.4,451.9 C2391.8,451.9 2391.4,464.3 2392.8,474.4 C2393.9,482.5 2394.3,484.2 2395.1,492.4 C2396.3,506.5 2396.2,509.7 2397.3,523.8 C2397.9,531.9 2397.4,541.8 2398.9,541.8 C2399.1,541.8 2400.8,540.9 2401.1,539.6 C2402.8,532.8 2402.4,530.9 2403.4,523.8 C2404.4,515.7 2403.6,505.8 2405.6,505.8 C2406.0,505.8 2408.5,507.0 2408.5,507.0" fill="none" stroke="#e9b74e" stroke-width="3.9" stroke-linejoin="round"/>
<g opacity="0.995"><text transform="translate(104,93.5) scale(1.032,1.11)" text-anchor="end" class="ax">3.59M</text><text transform="translate(104,187.5) scale(1.032,1.11)" text-anchor="end" class="ax">3.40M</text><text transform="translate(104,282.0) scale(1.032,1.11)" text-anchor="end" class="ax">3.20M</text><text transform="translate(104,376.5) scale(1.032,1.11)" text-anchor="end" class="ax">3.00M</text><text transform="translate(104,471.0) scale(1.032,1.11)" text-anchor="end" class="ax">2.80M</text><text transform="translate(104,565.5) scale(1.032,1.11)" text-anchor="end" class="ax">2.60M</text><text transform="translate(104,656.0) scale(1.032,1.11)" text-anchor="end" class="ax">2.40M</text><text transform="translate(2427,93.5) scale(1.05,1.11)" text-anchor="start" class="ax">$140.00K</text><text transform="translate(2427,213.0) scale(1.05,1.11)" text-anchor="start" class="ax">$120.00K</text><text transform="translate(2427,332.5) scale(1.05,1.11)" text-anchor="start" class="ax">$100.00K</text><text transform="translate(2427,452.0) scale(1.05,1.11)" text-anchor="start" class="ax">$80.00K</text><text transform="translate(2427,571.5) scale(1.05,1.11)" text-anchor="start" class="ax">$60.00K</text><text transform="translate(120.0,683) scale(1.032,1.085)" text-anchor="middle" class="ax">20 Feb</text><text transform="translate(214.7,683) scale(1.032,1.085)" text-anchor="middle" class="ax">19 Mar</text><text transform="translate(309.3,683) scale(1.032,1.085)" text-anchor="middle" class="ax">16 Apr</text><text transform="translate(404.0,683) scale(1.032,1.085)" text-anchor="middle" class="ax">15 May</text><text transform="translate(498.7,683) scale(1.032,1.085)" text-anchor="middle" class="ax">12 Jun</text><text transform="translate(593.4,683) scale(1.032,1.085)" text-anchor="middle" class="ax">12 Jul</text><text transform="translate(688.0,683) scale(1.032,1.085)" text-anchor="middle" class="ax">10 Aug</text><text transform="translate(782.7,683) scale(1.032,1.085)" text-anchor="middle" class="ax">7 Sep</text><text transform="translate(877.4,683) scale(1.032,1.085)" text-anchor="middle" class="ax">6 Oct</text><text transform="translate(972.0,683) scale(1.032,1.085)" text-anchor="middle" class="ax">3 Nov</text><text transform="translate(1066.7,683) scale(1.032,1.085)" text-anchor="middle" class="ax">2 Dec</text><text transform="translate(1161.4,683) scale(1.032,1.085)" text-anchor="middle" class="ax">30 Dec</text><text transform="translate(1256.0,683) scale(1.032,1.085)" text-anchor="middle" class="ax">27 Jan</text><text transform="translate(1350.7,683) scale(1.032,1.085)" text-anchor="middle" class="ax">25 Feb</text><text transform="translate(1445.4,683) scale(1.032,1.085)" text-anchor="middle" class="ax">9 Apr</text><text transform="translate(1540.0,683) scale(1.032,1.085)" text-anchor="middle" class="ax">12 May</text><text transform="translate(1634.7,683) scale(1.032,1.085)" text-anchor="middle" class="ax">14 Jun</text><text transform="translate(1729.4,683) scale(1.032,1.085)" text-anchor="middle" class="ax">13 Jul</text><text transform="translate(1824.1,683) scale(1.032,1.085)" text-anchor="middle" class="ax">13 Aug</text><text transform="translate(1918.7,683) scale(1.032,1.085)" text-anchor="middle" class="ax">11 Sep</text><text transform="translate(2013.4,683) scale(1.032,1.085)" text-anchor="middle" class="ax">14 Oct</text><text transform="translate(2108.1,683) scale(1.032,1.085)" text-anchor="middle" class="ax">11 Nov</text><text transform="translate(2202.7,683) scale(1.032,1.085)" text-anchor="middle" class="ax">9 Dec</text><text transform="translate(2297.4,683) scale(1.032,1.085)" text-anchor="middle" class="ax">7 Jan</text><text transform="translate(2392.1,683) scale(1.032,1.085)" text-anchor="middle" class="ax">4 Feb</text></g>
<rect x="1152" y="25.5" width="18" height="18.5" fill="#edb84a"/>
<text x="1181" y="41" class="lg" textLength="94.8" lengthAdjust="spacingAndGlyphs">BTC Price</text>
<rect x="1301.5" y="25.5" width="18" height="18.5" fill="#1dc583"/>
<text x="1330.7" y="41" class="lg" textLength="79.4" lengthAdjust="spacingAndGlyphs">Balance</text>
<rect x="123" y="688" width="2292" height="113" fill="#e9ecf8"/>
<path d="M122.4,778.3 L126.1,778.0 L136.4,779.5 L141.1,778.6 L143.9,778.6 L147.7,775.2 L150.5,771.7 L152.4,768.6 L156.1,769.6 L158.9,768.6 L162.7,768.9 L165.5,768.6 L168.3,764.9 L170.2,763.0 L173.4,767.3 L176.7,765.1 L180.5,764.2 L183.3,763.1 L189.9,762.6 L193.6,759.6 L198.3,759.8 L201.1,758.4 L206.7,761.7 L210.1,765.8 L212.4,763.1 L216.1,762.9 L220.8,769.0 L224.0,763.4 L230.2,767.1 L235.8,767.0 L241.4,761.7 L245.2,761.3 L248.0,761.8 L251.7,760.7 L258.3,761.7 L262.1,760.2 L264.9,762.0 L267.7,765.5 L271.4,765.4 L274.2,762.9 L278.0,763.4 L283.6,762.3 L288.9,759.8 L292.4,762.1 L294.9,760.9 L298.6,761.1 L302.4,763.4 L304.6,767.1 L308.9,765.6 L311.7,767.6 L320.2,767.6 L324.9,766.2 L330.5,765.9 L333.9,764.5 L337.1,765.2 L338.9,766.8 L343.6,766.6 L353.0,767.9 L356.4,767.3 L359.6,769.9 L362.4,772.4 L366.1,772.3 L369.9,769.3 L373.6,767.3 L378.3,767.1 L386.8,769.6 L390.5,768.0 L393.3,770.1 L398.0,770.2 L403.6,768.1 L407.4,769.3 L409.3,765.5 L413.0,764.9 L414.9,765.8 L417.7,764.3 L424.3,764.9 L427.6,760.2 L431.8,761.6 L436.5,763.2 L443.1,762.2 L446.8,762.6 L451.5,762.2 L458.1,763.6 L460.9,763.0 L464.6,763.7 L473.1,763.3 L478.7,760.8 L482.5,760.4 L486.2,761.0 L489.0,762.0 L497.5,761.7 L500.3,762.3 L502.1,763.9 L505.0,763.0 L511.5,765.1 L520.0,764.7 L526.5,766.0 L533.1,766.3 L535.9,766.8 L540.6,766.9 L543.4,768.3 L545.3,770.4 L549.4,769.2 L552.8,769.8 L555.6,769.4 L560.3,770.4 L565.0,769.7 L567.8,768.2 L570.6,768.2 L572.5,771.3 L574.9,773.8 L578.1,773.8 L580.0,772.7 L583.7,774.7 L589.3,772.7 L596.8,773.3 L601.5,772.5 L606.2,770.4 L610.9,766.6 L613.2,766.1 L617.5,767.0 L621.2,767.0 L624.0,764.8 L630.6,763.2 L634.3,763.9 L639.0,765.5 L643.7,765.5 L647.5,763.5 L655.0,763.2 L657.8,764.4 L662.5,765.4 L665.3,766.9 L668.1,768.9 L671.8,770.4 L675.6,773.0 L678.0,776.3 L681.8,774.7 L685.0,775.2 L688.2,769.4 L693.4,769.8 L696.2,770.1 L699.0,771.9 L704.7,770.4 L711.2,772.9 L717.8,771.6 L722.5,772.2 L725.3,771.4 L729.0,771.6 L732.8,769.8 L735.6,770.4 L739.3,767.2 L741.3,767.0 L746.9,767.1 L749.7,768.6 L752.6,771.3 L755.4,771.7 L760.1,771.4 L764.7,771.9 L768.5,773.3 L771.3,772.0 L773.6,771.7 L775.4,773.0 L778.8,772.7 L781.6,773.9 L785.4,776.4 L788.2,776.3 L793.8,775.4 L797.6,773.5 L800.4,773.0 L804.1,773.2 L807.9,771.0 L809.7,770.4 L813.5,771.0 L820.1,772.5 L822.9,771.6 L826.6,769.2 L831.3,767.9 L840.7,767.5 L844.4,767.6 L847.2,767.0 L850.4,767.8 L853.8,765.8 L857.6,765.3 L863.2,765.3 L866.9,766.3 L869.7,768.6 L872.6,770.1 L877.2,770.1 L881.0,768.6 L883.8,768.1 L887.6,768.8 L891.3,768.9 L895.1,770.1 L898.8,770.4 L901.6,768.3 L905.4,767.8 L908.2,768.0 L911.0,765.4 L915.7,763.8 L921.3,763.6 L926.0,763.0 L928.8,762.9 L932.2,762.3 L935.4,763.7 L939.1,763.9 L941.9,764.5 L945.7,763.2 L948.5,764.5 L954.1,763.8 L957.9,762.5 L961.6,759.1 L964.1,758.9 L968.2,761.0 L971.9,761.7 L975.7,762.0 L979.4,762.5 L983.2,762.2 L985.1,758.9 L986.3,756.1 L991.0,755.6 L996.6,755.0 L999.4,751.7 L1001.3,745.8 L1002.2,744.0 L1006.9,744.2 L1009.7,742.5 L1013.5,745.0 L1016.3,741.7 L1022.9,742.7 L1028.5,741.4 L1033.2,738.9 L1036.0,735.8 L1038.8,734.5 L1042.6,735.2 L1044.2,735.3 L1048.0,735.5 L1050.2,737.8 L1052.6,740.6 L1055.5,740.5 L1057.7,737.5 L1061.1,736.8 L1063.9,735.7 L1067.6,736.5 L1071.4,735.9 L1075.1,737.1 L1078.0,736.8 L1081.7,734.6 L1084.5,735.9 L1088.3,733.4 L1092.0,733.1 L1094.5,732.2 L1097.6,735.5 L1100.8,736.4 L1105.1,732.3 L1108.3,733.1 L1111.7,731.9 L1116.4,731.8 L1120.1,727.8 L1123.0,727.5 L1126.7,727.7 L1128.6,731.9 L1130.8,735.5 L1136.1,735.5 L1139.8,736.9 L1143.6,738.0 L1146.4,737.5 L1150.1,734.1 L1153.0,733.9 L1154.8,736.1 L1157.7,738.3 L1159.5,738.4 L1162.3,737.8 L1168.9,740.0 L1170.8,739.9 L1175.5,738.4 L1183.0,735.0 L1188.6,734.7 L1191.4,733.1 L1193.3,731.2 L1195.7,735.5 L1198.9,737.5 L1202.7,740.3 L1205.5,738.4 L1217.7,738.3 L1219.5,736.4 L1222.3,733.0 L1228.0,733.1 L1230.8,729.4 L1233.6,729.1 L1236.4,731.6 L1239.2,731.6 L1243.0,727.7 L1244.8,727.5 L1247.7,729.7 L1252.3,728.9 L1257.0,729.0 L1260.8,730.9 L1267.3,732.1 L1271.1,730.2 L1274.5,728.9 L1277.7,731.1 L1280.8,732.4 L1284.2,735.5 L1287.0,732.1 L1288.5,732.2 L1291.3,735.5 L1293.6,736.5 L1299.2,736.5 L1309.5,736.6 L1312.0,735.6 L1314.2,737.2 L1318.3,735.3 L1320.8,736.2 L1325.5,735.7 L1329.2,735.7 L1333.0,737.1 L1335.8,737.2 L1339.5,735.3 L1342.0,734.8 L1345.2,736.6 L1349.3,736.5 L1352.1,737.1 L1354.9,740.0 L1357.7,742.8 L1359.6,745.5 L1361.5,747.7 L1366.2,747.7 L1368.0,746.4 L1370.5,742.8 L1372.7,742.1 L1375.0,743.4 L1377.4,747.2 L1380.2,752.2 L1382.1,753.3 L1384.0,752.8 L1386.8,749.6 L1389.6,750.9 L1393.0,748.1 L1395.2,749.4 L1399.0,748.6 L1406.5,748.1 L1408.4,745.8 L1409.3,744.9 L1412.1,745.3 L1416.8,745.0 L1418.7,747.2 L1421.5,749.0 L1425.2,749.9 L1429.0,749.9 L1431.8,747.5 L1434.6,747.1 L1437.4,748.1 L1439.3,749.3 L1444.0,749.6 L1446.8,752.8 L1449.2,754.9 L1451.9,754.3 L1453.7,749.3 L1456.2,752.2 L1458.0,752.2 L1459.9,748.7 L1462.7,747.8 L1466.5,747.4 L1469.3,747.5 L1473.0,747.1 L1475.9,747.2 L1478.7,747.1 L1480.5,743.7 L1483.4,739.7 L1486.2,739.4 L1490.9,739.3 L1495.5,738.6 L1500.2,738.4 L1504.0,739.0 L1507.7,738.1 L1510.5,738.3 L1513.4,737.0 L1516.2,736.7 L1520.9,737.5 L1525.5,738.3 L1529.3,738.1 L1531.2,736.7 L1532.9,731.2 L1533.9,730.7 L1538.6,730.2 L1544.2,729.2 L1546.4,729.5 L1548.3,731.1 L1550.7,729.3 L1558.2,730.2 L1564.8,729.6 L1572.3,727.1 L1576.1,724.9 L1578.9,723.2 L1581.7,725.4 L1585.4,725.1 L1588.8,726.3 L1592.0,724.6 L1595.8,725.2 L1602.3,727.3 L1606.1,728.9 L1610.8,728.3 L1613.6,730.1 L1616.0,732.3 L1620.1,728.9 L1622.9,726.2 L1624.8,724.0 L1628.6,723.9 L1632.3,724.8 L1636.1,727.7 L1641.7,728.2 L1649.2,728.9 L1652.9,728.6 L1658.6,729.8 L1663.3,731.8 L1666.4,734.0 L1668.9,733.6 L1670.8,730.1 L1674.5,727.3 L1676.9,726.2 L1681.1,726.7 L1685.8,726.5 L1691.4,725.7 L1695.1,727.4 L1697.0,728.3 L1700.8,725.1 L1703.6,724.5 L1708.3,725.7 L1714.8,725.2 L1717.6,725.7 L1721.4,724.8 L1724.2,723.2 L1727.0,719.8 L1729.8,717.1 L1734.5,717.0 L1738.3,715.2 L1742.0,715.1 L1744.8,716.2 L1748.6,715.5 L1751.0,714.7 L1754.2,716.4 L1757.9,716.4 L1762.6,717.1 L1765.4,717.1 L1768.3,714.9 L1771.1,715.2 L1774.8,716.5 L1779.5,716.8 L1783.3,716.1 L1785.5,715.2 L1788.9,716.2 L1792.6,716.0 L1795.5,718.0 L1799.2,720.2 L1802.4,721.2 L1805.2,720.5 L1808.0,719.3 L1812.7,720.2 L1815.5,719.5 L1818.3,717.3 L1823.0,717.6 L1825.8,715.8 L1828.6,715.1 L1831.5,712.1 L1832.8,710.9 L1834.3,712.7 L1836.1,715.8 L1839.9,716.7 L1842.7,717.1 L1847.4,717.1 L1850.2,718.7 L1853.0,720.9 L1856.2,719.6 L1859.6,721.4 L1863.0,717.9 L1866.1,718.6 L1869.0,720.4 L1871.8,723.6 L1873.1,724.8 L1875.5,722.7 L1883.0,722.7 L1884.9,723.9 L1886.8,725.5 L1890.5,724.6 L1893.7,725.6 L1896.1,723.0 L1899.9,722.1 L1904.6,722.9 L1910.2,723.5 L1916.8,722.6 L1920.5,723.0 L1923.3,720.7 L1926.1,718.6 L1934.6,718.4 L1937.4,719.2 L1940.2,717.9 L1944.9,717.6 L1948.1,717.3 L1951.5,718.6 L1954.3,719.5 L1958.0,721.8 L1964.6,721.1 L1968.0,724.2 L1970.2,723.6 L1974.9,720.9 L1977.7,716.1 L1981.5,714.2 L1984.3,712.7 L1989.9,712.4 L1992.7,711.2 L1995.2,710.1 L1998.3,712.6 L2004.0,712.3 L2006.2,713.9 L2007.7,722.4 L2009.6,723.6 L2012.4,723.9 L2015.2,718.7 L2020.8,720.5 L2025.5,722.4 L2029.3,725.1 L2032.1,726.8 L2036.8,726.7 L2039.6,725.6 L2042.4,723.6 L2045.2,724.9 L2049.0,725.6 L2052.7,723.6 L2056.5,723.0 L2060.2,722.4 L2063.0,719.2 L2065.8,719.6 L2069.6,721.2 L2075.2,724.2 L2080.8,724.1 L2085.5,724.0 L2088.3,724.8 L2091.2,728.9 L2093.1,732.6 L2096.4,730.1 L2099.6,731.7 L2103.4,730.7 L2107.1,731.4 L2109.6,727.6 L2113.7,727.6 L2116.5,729.8 L2121.2,731.7 L2124.0,734.2 L2127.2,737.3 L2133.4,737.9 L2136.2,740.7 L2139.0,740.8 L2142.8,740.3 L2145.2,740.5 L2147.4,744.5 L2150.3,747.4 L2152.1,747.3 L2160.6,744.7 L2165.3,744.9 L2168.1,743.0 L2170.9,741.7 L2177.4,741.8 L2180.3,744.2 L2183.1,746.0 L2186.3,746.0 L2188.7,741.4 L2191.5,739.9 L2194.3,740.4 L2198.1,743.0 L2202.8,743.2 L2207.5,742.4 L2210.3,742.3 L2212.1,740.7 L2215.0,742.0 L2218.7,741.4 L2222.5,742.4 L2226.6,742.4 L2229.0,744.2 L2231.8,746.4 L2235.6,745.0 L2242.1,747.1 L2245.9,744.6 L2250.6,744.3 L2255.3,743.8 L2260.0,744.9 L2265.6,745.1 L2270.3,744.8 L2272.7,744.2 L2275.9,745.2 L2279.6,744.0 L2283.4,744.6 L2287.1,743.6 L2291.8,741.7 L2296.5,740.1 L2299.9,739.1 L2304.0,740.7 L2309.6,741.7 L2315.3,742.2 L2320.0,741.7 L2323.7,741.3 L2326.5,738.6 L2329.3,736.7 L2332.1,736.8 L2335.0,737.4 L2340.6,737.7 L2343.4,740.1 L2348.1,740.2 L2350.3,743.6 L2353.7,742.6 L2359.3,743.0 L2365.0,743.3 L2367.8,744.8 L2374.0,743.3 L2377.4,743.8 L2380.1,746.4 L2381.9,748.2 L2385.3,748.4 L2387.5,751.0 L2389.8,753.3 L2392.0,754.0 L2395.4,753.1 L2398.8,756.7 L2401.0,759.5 L2403.3,764.4 L2404.9,767.3 L2407.1,766.9 L2409.4,764.4 L2411.6,761.6 L2414.5,761.8 L2415,801 L123,801 Z" fill="#d5dff7"/>
<path d="M122.4,778.3 L126.1,778.0 L136.4,779.5 L141.1,778.6 L143.9,778.6 L147.7,775.2 L150.5,771.7 L152.4,768.6 L156.1,769.6 L158.9,768.6 L162.7,768.9 L165.5,768.6 L168.3,764.9 L170.2,763.0 L173.4,767.3 L176.7,765.1 L180.5,764.2 L183.3,763.1 L189.9,762.6 L193.6,759.6 L198.3,759.8 L201.1,758.4 L206.7,761.7 L210.1,765.8 L212.4,763.1 L216.1,762.9 L220.8,769.0 L224.0,763.4 L230.2,767.1 L235.8,767.0 L241.4,761.7 L245.2,761.3 L248.0,761.8 L251.7,760.7 L258.3,761.7 L262.1,760.2 L264.9,762.0 L267.7,765.5 L271.4,765.4 L274.2,762.9 L278.0,763.4 L283.6,762.3 L288.9,759.8 L292.4,762.1 L294.9,760.9 L298.6,761.1 L302.4,763.4 L304.6,767.1 L308.9,765.6 L311.7,767.6 L320.2,767.6 L324.9,766.2 L330.5,765.9 L333.9,764.5 L337.1,765.2 L338.9,766.8 L343.6,766.6 L353.0,767.9 L356.4,767.3 L359.6,769.9 L362.4,772.4 L366.1,772.3 L369.9,769.3 L373.6,767.3 L378.3,767.1 L386.8,769.6 L390.5,768.0 L393.3,770.1 L398.0,770.2 L403.6,768.1 L407.4,769.3 L409.3,765.5 L413.0,764.9 L414.9,765.8 L417.7,764.3 L424.3,764.9 L427.6,760.2 L431.8,761.6 L436.5,763.2 L443.1,762.2 L446.8,762.6 L451.5,762.2 L458.1,763.6 L460.9,763.0 L464.6,763.7 L473.1,763.3 L478.7,760.8 L482.5,760.4 L486.2,761.0 L489.0,762.0 L497.5,761.7 L500.3,762.3 L502.1,763.9 L505.0,763.0 L511.5,765.1 L520.0,764.7 L526.5,766.0 L533.1,766.3 L535.9,766.8 L540.6,766.9 L543.4,768.3 L545.3,770.4 L549.4,769.2 L552.8,769.8 L555.6,769.4 L560.3,770.4 L565.0,769.7 L567.8,768.2 L570.6,768.2 L572.5,771.3 L574.9,773.8 L578.1,773.8 L580.0,772.7 L583.7,774.7 L589.3,772.7 L596.8,773.3 L601.5,772.5 L606.2,770.4 L610.9,766.6 L613.2,766.1 L617.5,767.0 L621.2,767.0 L624.0,764.8 L630.6,763.2 L634.3,763.9 L639.0,765.5 L643.7,765.5 L647.5,763.5 L655.0,763.2 L657.8,764.4 L662.5,765.4 L665.3,766.9 L668.1,768.9 L671.8,770.4 L675.6,773.0 L678.0,776.3 L681.8,774.7 L685.0,775.2 L688.2,769.4 L693.4,769.8 L696.2,770.1 L699.0,771.9 L704.7,770.4 L711.2,772.9 L717.8,771.6 L722.5,772.2 L725.3,771.4 L729.0,771.6 L732.8,769.8 L735.6,770.4 L739.3,767.2 L741.3,767.0 L746.9,767.1 L749.7,768.6 L752.6,771.3 L755.4,771.7 L760.1,771.4 L764.7,771.9 L768.5,773.3 L771.3,772.0 L773.6,771.7 L775.4,773.0 L778.8,772.7 L781.6,773.9 L785.4,776.4 L788.2,776.3 L793.8,775.4 L797.6,773.5 L800.4,773.0 L804.1,773.2 L807.9,771.0 L809.7,770.4 L813.5,771.0 L820.1,772.5 L822.9,771.6 L826.6,769.2 L831.3,767.9 L840.7,767.5 L844.4,767.6 L847.2,767.0 L850.4,767.8 L853.8,765.8 L857.6,765.3 L863.2,765.3 L866.9,766.3 L869.7,768.6 L872.6,770.1 L877.2,770.1 L881.0,768.6 L883.8,768.1 L887.6,768.8 L891.3,768.9 L895.1,770.1 L898.8,770.4 L901.6,768.3 L905.4,767.8 L908.2,768.0 L911.0,765.4 L915.7,763.8 L921.3,763.6 L926.0,763.0 L928.8,762.9 L932.2,762.3 L935.4,763.7 L939.1,763.9 L941.9,764.5 L945.7,763.2 L948.5,764.5 L954.1,763.8 L957.9,762.5 L961.6,759.1 L964.1,758.9 L968.2,761.0 L971.9,761.7 L975.7,762.0 L979.4,762.5 L983.2,762.2 L985.1,758.9 L986.3,756.1 L991.0,755.6 L996.6,755.0 L999.4,751.7 L1001.3,745.8 L1002.2,744.0 L1006.9,744.2 L1009.7,742.5 L1013.5,745.0 L1016.3,741.7 L1022.9,742.7 L1028.5,741.4 L1033.2,738.9 L1036.0,735.8 L1038.8,734.5 L1042.6,735.2 L1044.2,735.3 L1048.0,735.5 L1050.2,737.8 L1052.6,740.6 L1055.5,740.5 L1057.7,737.5 L1061.1,736.8 L1063.9,735.7 L1067.6,736.5 L1071.4,735.9 L1075.1,737.1 L1078.0,736.8 L1081.7,734.6 L1084.5,735.9 L1088.3,733.4 L1092.0,733.1 L1094.5,732.2 L1097.6,735.5 L1100.8,736.4 L1105.1,732.3 L1108.3,733.1 L1111.7,731.9 L1116.4,731.8 L1120.1,727.8 L1123.0,727.5 L1126.7,727.7 L1128.6,731.9 L1130.8,735.5 L1136.1,735.5 L1139.8,736.9 L1143.6,738.0 L1146.4,737.5 L1150.1,734.1 L1153.0,733.9 L1154.8,736.1 L1157.7,738.3 L1159.5,738.4 L1162.3,737.8 L1168.9,740.0 L1170.8,739.9 L1175.5,738.4 L1183.0,735.0 L1188.6,734.7 L1191.4,733.1 L1193.3,731.2 L1195.7,735.5 L1198.9,737.5 L1202.7,740.3 L1205.5,738.4 L1217.7,738.3 L1219.5,736.4 L1222.3,733.0 L1228.0,733.1 L1230.8,729.4 L1233.6,729.1 L1236.4,731.6 L1239.2,731.6 L1243.0,727.7 L1244.8,727.5 L1247.7,729.7 L1252.3,728.9 L1257.0,729.0 L1260.8,730.9 L1267.3,732.1 L1271.1,730.2 L1274.5,728.9 L1277.7,731.1 L1280.8,732.4 L1284.2,735.5 L1287.0,732.1 L1288.5,732.2 L1291.3,735.5 L1293.6,736.5 L1299.2,736.5 L1309.5,736.6 L1312.0,735.6 L1314.2,737.2 L1318.3,735.3 L1320.8,736.2 L1325.5,735.7 L1329.2,735.7 L1333.0,737.1 L1335.8,737.2 L1339.5,735.3 L1342.0,734.8 L1345.2,736.6 L1349.3,736.5 L1352.1,737.1 L1354.9,740.0 L1357.7,742.8 L1359.6,745.5 L1361.5,747.7 L1366.2,747.7 L1368.0,746.4 L1370.5,742.8 L1372.7,742.1 L1375.0,743.4 L1377.4,747.2 L1380.2,752.2 L1382.1,753.3 L1384.0,752.8 L1386.8,749.6 L1389.6,750.9 L1393.0,748.1 L1395.2,749.4 L1399.0,748.6 L1406.5,748.1 L1408.4,745.8 L1409.3,744.9 L1412.1,745.3 L1416.8,745.0 L1418.7,747.2 L1421.5,749.0 L1425.2,749.9 L1429.0,749.9 L1431.8,747.5 L1434.6,747.1 L1437.4,748.1 L1439.3,749.3 L1444.0,749.6 L1446.8,752.8 L1449.2,754.9 L1451.9,754.3 L1453.7,749.3 L1456.2,752.2 L1458.0,752.2 L1459.9,748.7 L1462.7,747.8 L1466.5,747.4 L1469.3,747.5 L1473.0,747.1 L1475.9,747.2 L1478.7,747.1 L1480.5,743.7 L1483.4,739.7 L1486.2,739.4 L1490.9,739.3 L1495.5,738.6 L1500.2,738.4 L1504.0,739.0 L1507.7,738.1 L1510.5,738.3 L1513.4,737.0 L1516.2,736.7 L1520.9,737.5 L1525.5,738.3 L1529.3,738.1 L1531.2,736.7 L1532.9,731.2 L1533.9,730.7 L1538.6,730.2 L1544.2,729.2 L1546.4,729.5 L1548.3,731.1 L1550.7,729.3 L1558.2,730.2 L1564.8,729.6 L1572.3,727.1 L1576.1,724.9 L1578.9,723.2 L1581.7,725.4 L1585.4,725.1 L1588.8,726.3 L1592.0,724.6 L1595.8,725.2 L1602.3,727.3 L1606.1,728.9 L1610.8,728.3 L1613.6,730.1 L1616.0,732.3 L1620.1,728.9 L1622.9,726.2 L1624.8,724.0 L1628.6,723.9 L1632.3,724.8 L1636.1,727.7 L1641.7,728.2 L1649.2,728.9 L1652.9,728.6 L1658.6,729.8 L1663.3,731.8 L1666.4,734.0 L1668.9,733.6 L1670.8,730.1 L1674.5,727.3 L1676.9,726.2 L1681.1,726.7 L1685.8,726.5 L1691.4,725.7 L1695.1,727.4 L1697.0,728.3 L1700.8,725.1 L1703.6,724.5 L1708.3,725.7 L1714.8,725.2 L1717.6,725.7 L1721.4,724.8 L1724.2,723.2 L1727.0,719.8 L1729.8,717.1 L1734.5,717.0 L1738.3,715.2 L1742.0,715.1 L1744.8,716.2 L1748.6,715.5 L1751.0,714.7 L1754.2,716.4 L1757.9,716.4 L1762.6,717.1 L1765.4,717.1 L1768.3,714.9 L1771.1,715.2 L1774.8,716.5 L1779.5,716.8 L1783.3,716.1 L1785.5,715.2 L1788.9,716.2 L1792.6,716.0 L1795.5,718.0 L1799.2,720.2 L1802.4,721.2 L1805.2,720.5 L1808.0,719.3 L1812.7,720.2 L1815.5,719.5 L1818.3,717.3 L1823.0,717.6 L1825.8,715.8 L1828.6,715.1 L1831.5,712.1 L1832.8,710.9 L1834.3,712.7 L1836.1,715.8 L1839.9,716.7 L1842.7,717.1 L1847.4,717.1 L1850.2,718.7 L1853.0,720.9 L1856.2,719.6 L1859.6,721.4 L1863.0,717.9 L1866.1,718.6 L1869.0,720.4 L1871.8,723.6 L1873.1,724.8 L1875.5,722.7 L1883.0,722.7 L1884.9,723.9 L1886.8,725.5 L1890.5,724.6 L1893.7,725.6 L1896.1,723.0 L1899.9,722.1 L1904.6,722.9 L1910.2,723.5 L1916.8,722.6 L1920.5,723.0 L1923.3,720.7 L1926.1,718.6 L1934.6,718.4 L1937.4,719.2 L1940.2,717.9 L1944.9,717.6 L1948.1,717.3 L1951.5,718.6 L1954.3,719.5 L1958.0,721.8 L1964.6,721.1 L1968.0,724.2 L1970.2,723.6 L1974.9,720.9 L1977.7,716.1 L1981.5,714.2 L1984.3,712.7 L1989.9,712.4 L1992.7,711.2 L1995.2,710.1 L1998.3,712.6 L2004.0,712.3 L2006.2,713.9 L2007.7,722.4 L2009.6,723.6 L2012.4,723.9 L2015.2,718.7 L2020.8,720.5 L2025.5,722.4 L2029.3,725.1 L2032.1,726.8 L2036.8,726.7 L2039.6,725.6 L2042.4,723.6 L2045.2,724.9 L2049.0,725.6 L2052.7,723.6 L2056.5,723.0 L2060.2,722.4 L2063.0,719.2 L2065.8,719.6 L2069.6,721.2 L2075.2,724.2 L2080.8,724.1 L2085.5,724.0 L2088.3,724.8 L2091.2,728.9 L2093.1,732.6 L2096.4,730.1 L2099.6,731.7 L2103.4,730.7 L2107.1,731.4 L2109.6,727.6 L2113.7,727.6 L2116.5,729.8 L2121.2,731.7 L2124.0,734.2 L2127.2,737.3 L2133.4,737.9 L2136.2,740.7 L2139.0,740.8 L2142.8,740.3 L2145.2,740.5 L2147.4,744.5 L2150.3,747.4 L2152.1,747.3 L2160.6,744.7 L2165.3,744.9 L2168.1,743.0 L2170.9,741.7 L2177.4,741.8 L2180.3,744.2 L2183.1,746.0 L2186.3,746.0 L2188.7,741.4 L2191.5,739.9 L2194.3,740.4 L2198.1,743.0 L2202.8,743.2 L2207.5,742.4 L2210.3,742.3 L2212.1,740.7 L2215.0,742.0 L2218.7,741.4 L2222.5,742.4 L2226.6,742.4 L2229.0,744.2 L2231.8,746.4 L2235.6,745.0 L2242.1,747.1 L2245.9,744.6 L2250.6,744.3 L2255.3,743.8 L2260.0,744.9 L2265.6,745.1 L2270.3,744.8 L2272.7,744.2 L2275.9,745.2 L2279.6,744.0 L2283.4,744.6 L2287.1,743.6 L2291.8,741.7 L2296.5,740.1 L2299.9,739.1 L2304.0,740.7 L2309.6,741.7 L2315.3,742.2 L2320.0,741.7 L2323.7,741.3 L2326.5,738.6 L2329.3,736.7 L2332.1,736.8 L2335.0,737.4 L2340.6,737.7 L2343.4,740.1 L2348.1,740.2 L2350.3,743.6 L2353.7,742.6 L2359.3,743.0 L2365.0,743.3 L2367.8,744.8 L2374.0,743.3 L2377.4,743.8 L2380.1,746.4 L2381.9,748.2 L2385.3,748.4 L2387.5,751.0 L2389.8,753.3 L2392.0,754.0 L2395.4,753.1 L2398.8,756.7 L2401.0,759.5 L2403.3,764.4 L2404.9,767.3 L2407.1,766.9 L2409.4,764.4 L2411.6,761.6 L2414.5,761.8" fill="none" stroke="#9bb1e6" stroke-width="1.1"/>
<g fill="#2f3347">
<rect x="111" y="731" width="27.4" height="32.4" rx="10"/>
<rect x="2400.2" y="731" width="27.4" height="32.4" rx="10"/>
</g>
<g fill="#8f94ab">
<rect x="120.6" y="741.3" width="2.2" height="11.8"/><rect x="126.9" y="741.3" width="2.2" height="11.8"/>
<rect x="2409.8" y="741.3" width="2.2" height="11.8"/><rect x="2416.1" y="741.3" width="2.2" height="11.8"/>
</g>
</svg>
</body></html>
